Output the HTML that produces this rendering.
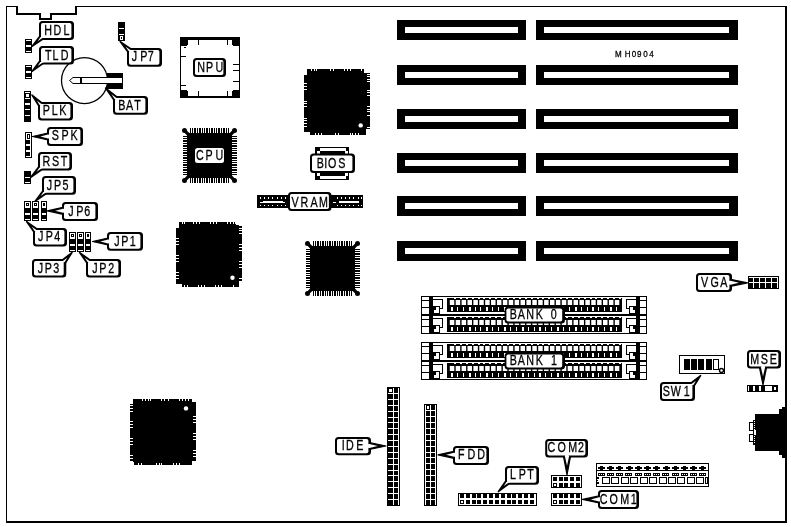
<!DOCTYPE html>
<html><head><meta charset="utf-8"><title>MH0904</title>
<style>
html,body{margin:0;padding:0;background:#fff;}
svg{display:block;will-change:transform;}
text{font-family:"Liberation Sans",sans-serif;fill:#000;stroke:#000;stroke-width:0.3px;}
</style></head><body>
<svg width="791" height="527" viewBox="0 0 791 527" shape-rendering="crispEdges">
<rect x="0" y="0" width="791" height="527" fill="#fff"/>
<rect x="6" y="6" width="12" height="1" fill="#000"/>
<rect x="16" y="6" width="2" height="9" fill="#000"/>
<rect x="16" y="13" width="25" height="2" fill="#000"/>
<rect x="39" y="13" width="2" height="7" fill="#000"/>
<rect x="39" y="18" width="13" height="2" fill="#000"/>
<rect x="50" y="13" width="2" height="7" fill="#000"/>
<rect x="50" y="13" width="27" height="2" fill="#000"/>
<rect x="75" y="6" width="2" height="9" fill="#000"/>
<rect x="75" y="6" width="712" height="1" fill="#000"/>
<rect x="785" y="6" width="2" height="517" fill="#000"/>
<rect x="6" y="521" width="781" height="2" fill="#000"/>
<rect x="6" y="6" width="1" height="517" fill="#000"/>
<rect x="397" y="20" width="129" height="20" fill="#000"/>
<rect x="405" y="27" width="113" height="6" fill="#fff"/>
<rect x="536" y="20" width="202" height="20" fill="#000"/>
<rect x="544" y="27" width="185" height="6" fill="#fff"/>
<rect x="397" y="65" width="129" height="20" fill="#000"/>
<rect x="405" y="72" width="113" height="6" fill="#fff"/>
<rect x="536" y="65" width="202" height="20" fill="#000"/>
<rect x="544" y="72" width="185" height="6" fill="#fff"/>
<rect x="397" y="109" width="129" height="20" fill="#000"/>
<rect x="405" y="116" width="113" height="6" fill="#fff"/>
<rect x="536" y="109" width="202" height="20" fill="#000"/>
<rect x="544" y="116" width="185" height="6" fill="#fff"/>
<rect x="397" y="153" width="129" height="20" fill="#000"/>
<rect x="405" y="160" width="113" height="6" fill="#fff"/>
<rect x="536" y="153" width="202" height="20" fill="#000"/>
<rect x="544" y="160" width="185" height="6" fill="#fff"/>
<rect x="397" y="196" width="129" height="20" fill="#000"/>
<rect x="405" y="203" width="113" height="6" fill="#fff"/>
<rect x="536" y="196" width="202" height="20" fill="#000"/>
<rect x="544" y="203" width="185" height="6" fill="#fff"/>
<rect x="397" y="241" width="129" height="20" fill="#000"/>
<rect x="405" y="248" width="113" height="6" fill="#fff"/>
<rect x="536" y="241" width="202" height="20" fill="#000"/>
<rect x="544" y="248" width="185" height="6" fill="#fff"/>
<rect x="25" y="39" width="7" height="14" fill="#000"/>
<rect x="26" y="40" width="5" height="1" fill="#fff"/>
<rect x="26" y="45" width="5" height="1" fill="#fff"/>
<rect x="26" y="46" width="5" height="1" fill="#fff"/>
<rect x="26" y="51" width="5" height="1" fill="#fff"/>
<rect x="25" y="65" width="7" height="14" fill="#000"/>
<rect x="26" y="66" width="5" height="1" fill="#fff"/>
<rect x="26" y="71" width="5" height="1" fill="#fff"/>
<rect x="26" y="72" width="5" height="1" fill="#fff"/>
<rect x="26" y="77" width="5" height="1" fill="#fff"/>
<rect x="24" y="91" width="7" height="31" fill="#000"/>
<rect x="25" y="92" width="5" height="1" fill="#fff"/>
<rect x="26" y="94" width="3" height="3" fill="#fff"/>
<rect x="25" y="98" width="5" height="1" fill="#fff"/>
<rect x="25" y="103" width="5" height="2" fill="#fff"/>
<rect x="25" y="109" width="5" height="1" fill="#fff"/>
<rect x="25" y="115" width="5" height="1" fill="#fff"/>
<rect x="25" y="132" width="7" height="26" fill="#000"/>
<rect x="26" y="133" width="5" height="24" fill="#fff"/>
<rect x="27" y="134" width="3" height="5" fill="#000"/>
<rect x="28" y="135" width="1" height="3" fill="#fff"/>
<rect x="26" y="140" width="4" height="4" fill="#000"/>
<rect x="26" y="146" width="4" height="4" fill="#000"/>
<rect x="26" y="152" width="4" height="4" fill="#000"/>
<rect x="24" y="171" width="7" height="13" fill="#000"/>
<rect x="25" y="177" width="5" height="1" fill="#fff"/>
<rect x="25" y="182" width="5" height="1" fill="#fff"/>
<rect x="118" y="22" width="7" height="19" fill="#000"/>
<rect x="119" y="28" width="5" height="1" fill="#fff"/>
<rect x="119" y="34" width="5" height="1" fill="#fff"/>
<rect x="120" y="36" width="3" height="4" fill="#fff"/>
<rect x="121" y="37" width="1" height="2" fill="#000"/>
<rect x="24" y="201" width="7" height="20" fill="#000"/>
<rect x="25" y="202" width="5" height="6" fill="#fff"/>
<rect x="26" y="203" width="3" height="3" fill="#000"/>
<rect x="27" y="204" width="1" height="1" fill="#fff"/>
<rect x="25" y="213" width="5" height="2" fill="#fff"/>
<rect x="25" y="219" width="5" height="1" fill="#fff"/>
<rect x="32" y="201" width="7" height="20" fill="#000"/>
<rect x="33" y="202" width="5" height="6" fill="#fff"/>
<rect x="34" y="203" width="3" height="3" fill="#000"/>
<rect x="35" y="204" width="1" height="1" fill="#fff"/>
<rect x="33" y="213" width="5" height="2" fill="#fff"/>
<rect x="33" y="219" width="5" height="1" fill="#fff"/>
<rect x="41" y="201" width="6" height="20" fill="#000"/>
<rect x="42" y="202" width="4" height="6" fill="#fff"/>
<rect x="43" y="203" width="2" height="3" fill="#000"/>
<rect x="44" y="204" width="0" height="1" fill="#fff"/>
<rect x="42" y="213" width="4" height="2" fill="#fff"/>
<rect x="42" y="219" width="4" height="1" fill="#fff"/>
<rect x="69" y="232" width="7" height="20" fill="#000"/>
<rect x="70" y="233" width="5" height="6" fill="#fff"/>
<rect x="71" y="234" width="3" height="3" fill="#000"/>
<rect x="72" y="235" width="1" height="1" fill="#fff"/>
<rect x="70" y="244" width="5" height="2" fill="#fff"/>
<rect x="70" y="250" width="5" height="1" fill="#fff"/>
<rect x="77" y="232" width="7" height="20" fill="#000"/>
<rect x="78" y="233" width="5" height="6" fill="#fff"/>
<rect x="79" y="234" width="3" height="3" fill="#000"/>
<rect x="80" y="235" width="1" height="1" fill="#fff"/>
<rect x="78" y="244" width="5" height="2" fill="#fff"/>
<rect x="78" y="250" width="5" height="1" fill="#fff"/>
<rect x="85" y="232" width="6" height="20" fill="#000"/>
<rect x="86" y="233" width="4" height="6" fill="#fff"/>
<rect x="87" y="234" width="2" height="3" fill="#000"/>
<rect x="88" y="235" width="0" height="1" fill="#fff"/>
<rect x="86" y="244" width="4" height="2" fill="#fff"/>
<rect x="86" y="250" width="4" height="1" fill="#fff"/>
<circle cx="84.5" cy="80.5" r="23" fill="#fff" stroke="#000" stroke-width="1.25" shape-rendering="geometricPrecision"/>
<rect x="107" y="73" width="16" height="16" fill="#000"/>
<polygon points="69.5,80.5 73,77.5 122.5,77.5 122.5,83.5 73,83.5" fill="#fff" stroke="#000" stroke-width="1" shape-rendering="geometricPrecision"/>
<rect x="80" y="77" width="2" height="7" fill="#000"/>
<polygon points="39.6,36.5 32,46.5 42.5,39.4" fill="#000" stroke="#000" stroke-width="1.5" stroke-linejoin="round" shape-rendering="geometricPrecision"/>
<rect x="39" y="21" width="35" height="19" rx="3.5" ry="3.5" fill="#000" shape-rendering="geometricPrecision"/>
<rect x="41" y="23" width="30.4" height="15" rx="1.8" ry="1.8" fill="#fff" shape-rendering="geometricPrecision"/>
<polygon points="43.94005,35.80205 40.3975,37.2975 37.611,41.199 41.7025,38.6025 44.95795,36.81995" fill="#fff" shape-rendering="geometricPrecision"/>
<text transform="translate(0,35) scale(0.74,1)" x="59.67 72.23 85.83" y="0" font-size="14.5">HDL</text>
<polygon points="39.6,61.099999999999994 32,71.5 42.5,63.99999999999999" fill="#000" stroke="#000" stroke-width="1.5" stroke-linejoin="round" shape-rendering="geometricPrecision"/>
<rect x="39" y="46" width="35" height="18.599999999999994" rx="3.5" ry="3.5" fill="#000" shape-rendering="geometricPrecision"/>
<rect x="41" y="48" width="30.4" height="14.599999999999994" rx="1.8" ry="1.8" fill="#fff" shape-rendering="geometricPrecision"/>
<polygon points="43.94005,60.44604999999999 40.3975,61.897499999999994 37.611,65.951 41.7025,63.20249999999999 44.95795,61.46395" fill="#fff" shape-rendering="geometricPrecision"/>
<text transform="translate(0,60) scale(0.74,1)" x="60.91 71.10 81.96" y="0" font-size="14.5">TLD</text>
<polygon points="38.6,105.5 32,95 41.5,102.6" fill="#000" stroke="#000" stroke-width="1.5" stroke-linejoin="round" shape-rendering="geometricPrecision"/>
<rect x="38" y="102" width="35" height="18.400000000000006" rx="3.5" ry="3.5" fill="#000" shape-rendering="geometricPrecision"/>
<rect x="40" y="104" width="30.4" height="14.400000000000006" rx="1.8" ry="1.8" fill="#fff" shape-rendering="geometricPrecision"/>
<polygon points="42.94005,106.13195 39.3975,104.7025 36.991,100.611 40.7025,103.3975 43.95795,105.11404999999999" fill="#fff" shape-rendering="geometricPrecision"/>
<text transform="translate(0,115) scale(0.74,1)" x="57.77 69.89 79.94" y="0" font-size="14.5">PLK</text>
<polygon points="48,133.0 32.5,136.5 48,140.0" fill="#000" stroke="#000" stroke-width="1.2" stroke-linejoin="round" shape-rendering="geometricPrecision"/>
<rect x="47" y="127" width="36" height="19" rx="3.5" ry="3.5" fill="#000" shape-rendering="geometricPrecision"/>
<rect x="49" y="129" width="31.4" height="15" rx="1.8" ry="1.8" fill="#fff" shape-rendering="geometricPrecision"/>
<polygon points="51.74,134.9166 48.0,134.47 40.25,136.5 48.0,138.53 51.74,138.0834" fill="#fff" shape-rendering="geometricPrecision"/>
<text transform="translate(0,140) scale(0.74,1)" x="70.01 83.04 95.21" y="0" font-size="14.5">SPK</text>
<polygon points="38.6,167.0 30.8,177.3 41.5,169.9" fill="#000" stroke="#000" stroke-width="1.5" stroke-linejoin="round" shape-rendering="geometricPrecision"/>
<rect x="38" y="152" width="34" height="18.5" rx="3.5" ry="3.5" fill="#000" shape-rendering="geometricPrecision"/>
<rect x="40" y="154" width="29.4" height="14.5" rx="1.8" ry="1.8" fill="#fff" shape-rendering="geometricPrecision"/>
<polygon points="42.83005,166.35705 39.3975,167.79749999999999 36.535,171.813 40.7025,169.1025 43.84795,167.37494999999998" fill="#fff" shape-rendering="geometricPrecision"/>
<text transform="translate(0,166) scale(0.74,1)" x="57.37 70.14 82.13" y="0" font-size="14.5">RST</text>
<polygon points="42.6,191.2 35,201.5 45.5,194.1" fill="#000" stroke="#000" stroke-width="1.5" stroke-linejoin="round" shape-rendering="geometricPrecision"/>
<rect x="42" y="176" width="34" height="18.69999999999999" rx="3.5" ry="3.5" fill="#000" shape-rendering="geometricPrecision"/>
<rect x="44" y="178" width="29.4" height="14.699999999999989" rx="1.8" ry="1.8" fill="#fff" shape-rendering="geometricPrecision"/>
<polygon points="46.83005,190.53504999999998 43.3975,191.99749999999997 40.611,196.01299999999998 44.7025,193.30249999999998 47.84795,191.55294999999998" fill="#fff" shape-rendering="geometricPrecision"/>
<text transform="translate(0,190) scale(0.74,1)" x="63.28 73.04 84.56" y="0" font-size="14.5">JP5</text>
<polygon points="63,207.3 47.3,210.8 63,214.3" fill="#000" stroke="#000" stroke-width="1.2" stroke-linejoin="round" shape-rendering="geometricPrecision"/>
<rect x="62" y="202" width="36" height="19" rx="3.5" ry="3.5" fill="#000" shape-rendering="geometricPrecision"/>
<rect x="64" y="204" width="31.4" height="15" rx="1.8" ry="1.8" fill="#fff" shape-rendering="geometricPrecision"/>
<polygon points="66.74,209.3706 63.0,208.77 55.15,210.8 63.0,212.83 66.74,212.53740000000002" fill="#fff" shape-rendering="geometricPrecision"/>
<text transform="translate(0,216) scale(0.74,1)" x="92.07 102.91 113.88" y="0" font-size="14.5">JP6</text>
<polygon points="33.6,231.5 26.6,221.5 36.5,228.6" fill="#000" stroke="#000" stroke-width="1.5" stroke-linejoin="round" shape-rendering="geometricPrecision"/>
<rect x="33" y="228" width="34" height="18.599999999999994" rx="3.5" ry="3.5" fill="#000" shape-rendering="geometricPrecision"/>
<rect x="35" y="230" width="29.4" height="14.599999999999994" rx="1.8" ry="1.8" fill="#fff" shape-rendering="geometricPrecision"/>
<polygon points="37.83005,232.15395 34.3975,230.70250000000001 31.839,226.80100000000002 35.7025,229.3975 38.84795,231.13605" fill="#fff" shape-rendering="geometricPrecision"/>
<text transform="translate(0,241) scale(0.74,1)" x="51.39 61.69 73.22" y="0" font-size="14.5">JP4</text>
<polygon points="108,238.0 92.5,241.5 108,245.0" fill="#000" stroke="#000" stroke-width="1.2" stroke-linejoin="round" shape-rendering="geometricPrecision"/>
<rect x="107" y="232" width="36" height="18.69999999999999" rx="3.5" ry="3.5" fill="#000" shape-rendering="geometricPrecision"/>
<rect x="109" y="234" width="31.4" height="14.699999999999989" rx="1.8" ry="1.8" fill="#fff" shape-rendering="geometricPrecision"/>
<polygon points="111.74,239.8836 108.0,239.47 100.25,241.5 108.0,243.53 111.74,243.0504" fill="#fff" shape-rendering="geometricPrecision"/>
<text transform="translate(0,246) scale(0.74,1)" x="154.50 163.72 175.45" y="0" font-size="14.5">JP1</text>
<polygon points="62.8,259.6 72,252.5 65.7,262.5" fill="#000" stroke="#000" stroke-width="1.5" stroke-linejoin="round" shape-rendering="geometricPrecision"/>
<rect x="32" y="259" width="34.3" height="18.5" rx="3.5" ry="3.5" fill="#000" shape-rendering="geometricPrecision"/>
<rect x="34" y="261" width="29.699999999999996" height="14.5" rx="1.8" ry="1.8" fill="#fff" shape-rendering="geometricPrecision"/>
<polygon points="60.41905,262.12505000000004 63.5975,260.39750000000004 67.195,257.801 64.9025,261.7025 61.43695,263.14295" fill="#fff" shape-rendering="geometricPrecision"/>
<text transform="translate(0,273) scale(0.74,1)" x="50.98 60.34 72.12" y="0" font-size="14.5">JP3</text>
<polygon points="86.6,262.5 79.6,252.5 89.5,259.6" fill="#000" stroke="#000" stroke-width="1.5" stroke-linejoin="round" shape-rendering="geometricPrecision"/>
<rect x="86" y="259" width="35" height="18.5" rx="3.5" ry="3.5" fill="#000" shape-rendering="geometricPrecision"/>
<rect x="88" y="261" width="30.4" height="14.5" rx="1.8" ry="1.8" fill="#fff" shape-rendering="geometricPrecision"/>
<polygon points="90.94005,263.14295 87.3975,261.7025 84.839,257.801 88.7025,260.39750000000004 91.95795,262.12505000000004" fill="#fff" shape-rendering="geometricPrecision"/>
<text transform="translate(0,273) scale(0.74,1)" x="124.77 133.99 146.19" y="0" font-size="14.5">JP2</text>
<polygon points="113.6,99.5 105.6,88 116.5,96.6" fill="#000" stroke="#000" stroke-width="1.5" stroke-linejoin="round" shape-rendering="geometricPrecision"/>
<rect x="113" y="96" width="35" height="18.700000000000003" rx="3.5" ry="3.5" fill="#000" shape-rendering="geometricPrecision"/>
<rect x="115" y="98" width="30.4" height="14.700000000000003" rx="1.8" ry="1.8" fill="#fff" shape-rendering="geometricPrecision"/>
<polygon points="117.94005,100.16495 114.3975,98.7025 111.459,94.231 115.7025,97.3975 118.95795,99.14705" fill="#fff" shape-rendering="geometricPrecision"/>
<text transform="translate(0,110) scale(0.74,1)" x="159.67 170.27 181.32" y="0" font-size="14.5">BAT</text>
<polygon points="127.6,51.5 120.2,41.5 130.5,48.6" fill="#000" stroke="#000" stroke-width="1.5" stroke-linejoin="round" shape-rendering="geometricPrecision"/>
<rect x="127" y="48" width="35" height="18.700000000000003" rx="3.5" ry="3.5" fill="#000" shape-rendering="geometricPrecision"/>
<rect x="129" y="50" width="30.4" height="14.700000000000003" rx="1.8" ry="1.8" fill="#fff" shape-rendering="geometricPrecision"/>
<polygon points="131.94005,52.16495 128.3975,50.7025 125.68700000000001,46.801 129.70250000000001,49.3975 132.95795,51.14705" fill="#fff" shape-rendering="geometricPrecision"/>
<text transform="translate(0,61) scale(0.74,1)" x="178.01 189.40 199.83" y="0" font-size="14.5">JP7</text>
<rect x="180" y="37" width="60" height="61" fill="#000"/>
<rect x="181" y="40" width="58" height="56" fill="#fff"/>
<rect x="181" y="40" width="7" height="5" fill="#000"/>
<rect x="181" y="40" width="6" height="6" fill="#000"/>
<rect x="181" y="91" width="7" height="5" fill="#000"/>
<rect x="181" y="90" width="6" height="6" fill="#000"/>
<rect x="232" y="40" width="7" height="5" fill="#000"/>
<rect x="233" y="40" width="6" height="6" fill="#000"/>
<rect x="232" y="91" width="7" height="5" fill="#000"/>
<rect x="233" y="90" width="6" height="6" fill="#000"/>
<rect x="198" y="40" width="1" height="5" fill="#000"/>
<rect x="198" y="91" width="1" height="5" fill="#000"/>
<rect x="227" y="40" width="1" height="5" fill="#000"/>
<rect x="227" y="91" width="1" height="5" fill="#000"/>
<rect x="184" y="47" width="2" height="1" fill="#000"/>
<rect x="181" y="56" width="5" height="1" fill="#000"/>
<rect x="181" y="85" width="5" height="1" fill="#000"/>
<rect x="233" y="64" width="6" height="1" fill="#000"/>
<rect x="233" y="70" width="6" height="1" fill="#000"/>
<rect x="233" y="81" width="6" height="1" fill="#000"/>
<rect x="193" y="58" width="33" height="19" rx="3.5" ry="3.5" fill="#000" shape-rendering="geometricPrecision"/>
<rect x="195" y="60" width="28.4" height="15" rx="1.8" ry="1.8" fill="#fff" shape-rendering="geometricPrecision"/>
<text transform="translate(0,72) scale(0.74,1)" x="266.69 278.45 291.07" y="0" font-size="14.5">NPU</text>
<rect x="187" y="133" width="45" height="45" fill="#000"/>
<rect x="190" y="128" width="39" height="5" fill="#000"/>
<rect x="190" y="178" width="39" height="5" fill="#000"/>
<rect x="183" y="136" width="4" height="39" fill="#000"/>
<rect x="232" y="136" width="5" height="39" fill="#000"/>
<rect x="191" y="128" width="1" height="5" fill="#fff"/>
<rect x="191" y="178" width="1" height="5" fill="#fff"/>
<rect x="182" y="137" width="5" height="1" fill="#fff"/>
<rect x="232" y="137" width="5" height="1" fill="#fff"/>
<rect x="193" y="128" width="1" height="5" fill="#fff"/>
<rect x="193" y="178" width="1" height="5" fill="#fff"/>
<rect x="182" y="139" width="5" height="1" fill="#fff"/>
<rect x="232" y="139" width="5" height="1" fill="#fff"/>
<rect x="196" y="128" width="1" height="5" fill="#fff"/>
<rect x="196" y="178" width="1" height="5" fill="#fff"/>
<rect x="182" y="142" width="5" height="1" fill="#fff"/>
<rect x="232" y="142" width="5" height="1" fill="#fff"/>
<rect x="198" y="128" width="1" height="5" fill="#fff"/>
<rect x="198" y="178" width="1" height="5" fill="#fff"/>
<rect x="182" y="144" width="5" height="1" fill="#fff"/>
<rect x="232" y="144" width="5" height="1" fill="#fff"/>
<rect x="201" y="128" width="1" height="5" fill="#fff"/>
<rect x="201" y="178" width="1" height="5" fill="#fff"/>
<rect x="182" y="147" width="5" height="1" fill="#fff"/>
<rect x="232" y="147" width="5" height="1" fill="#fff"/>
<rect x="203" y="128" width="1" height="5" fill="#fff"/>
<rect x="203" y="178" width="1" height="5" fill="#fff"/>
<rect x="182" y="149" width="5" height="1" fill="#fff"/>
<rect x="232" y="149" width="5" height="1" fill="#fff"/>
<rect x="205" y="128" width="1" height="5" fill="#fff"/>
<rect x="205" y="178" width="1" height="5" fill="#fff"/>
<rect x="182" y="151" width="5" height="1" fill="#fff"/>
<rect x="232" y="151" width="5" height="1" fill="#fff"/>
<rect x="208" y="128" width="1" height="5" fill="#fff"/>
<rect x="208" y="178" width="1" height="5" fill="#fff"/>
<rect x="182" y="154" width="5" height="1" fill="#fff"/>
<rect x="232" y="154" width="5" height="1" fill="#fff"/>
<rect x="210" y="128" width="1" height="5" fill="#fff"/>
<rect x="210" y="178" width="1" height="5" fill="#fff"/>
<rect x="182" y="156" width="5" height="1" fill="#fff"/>
<rect x="232" y="156" width="5" height="1" fill="#fff"/>
<rect x="213" y="128" width="1" height="5" fill="#fff"/>
<rect x="213" y="178" width="1" height="5" fill="#fff"/>
<rect x="182" y="159" width="5" height="1" fill="#fff"/>
<rect x="232" y="159" width="5" height="1" fill="#fff"/>
<rect x="215" y="128" width="1" height="5" fill="#fff"/>
<rect x="215" y="178" width="1" height="5" fill="#fff"/>
<rect x="182" y="161" width="5" height="1" fill="#fff"/>
<rect x="232" y="161" width="5" height="1" fill="#fff"/>
<rect x="217" y="128" width="1" height="5" fill="#fff"/>
<rect x="217" y="178" width="1" height="5" fill="#fff"/>
<rect x="182" y="163" width="5" height="1" fill="#fff"/>
<rect x="232" y="163" width="5" height="1" fill="#fff"/>
<rect x="220" y="128" width="1" height="5" fill="#fff"/>
<rect x="220" y="178" width="1" height="5" fill="#fff"/>
<rect x="182" y="166" width="5" height="1" fill="#fff"/>
<rect x="232" y="166" width="5" height="1" fill="#fff"/>
<rect x="222" y="128" width="1" height="5" fill="#fff"/>
<rect x="222" y="178" width="1" height="5" fill="#fff"/>
<rect x="182" y="168" width="5" height="1" fill="#fff"/>
<rect x="232" y="168" width="5" height="1" fill="#fff"/>
<rect x="225" y="128" width="1" height="5" fill="#fff"/>
<rect x="225" y="178" width="1" height="5" fill="#fff"/>
<rect x="182" y="171" width="5" height="1" fill="#fff"/>
<rect x="232" y="171" width="5" height="1" fill="#fff"/>
<rect x="227" y="128" width="1" height="5" fill="#fff"/>
<rect x="227" y="178" width="1" height="5" fill="#fff"/>
<rect x="182" y="173" width="5" height="1" fill="#fff"/>
<rect x="232" y="173" width="5" height="1" fill="#fff"/>
<line x1="184.6" y1="130.6" x2="189" y2="135" stroke="#000" stroke-width="3.2" stroke-linecap="round" shape-rendering="geometricPrecision"/>
<circle cx="184.5" cy="130.5" r="2.5" fill="#000" shape-rendering="geometricPrecision"/>
<line x1="234.4" y1="130.6" x2="230" y2="135" stroke="#000" stroke-width="3.2" stroke-linecap="round" shape-rendering="geometricPrecision"/>
<circle cx="234.5" cy="130.5" r="2.5" fill="#000" shape-rendering="geometricPrecision"/>
<line x1="184.6" y1="180.4" x2="189" y2="176" stroke="#000" stroke-width="3.2" stroke-linecap="round" shape-rendering="geometricPrecision"/>
<circle cx="184.5" cy="180.5" r="2.5" fill="#000" shape-rendering="geometricPrecision"/>
<line x1="234.4" y1="180.4" x2="230" y2="176" stroke="#000" stroke-width="3.2" stroke-linecap="round" shape-rendering="geometricPrecision"/>
<circle cx="234.5" cy="180.5" r="2.5" fill="#000" shape-rendering="geometricPrecision"/>
<rect x="195" y="148" width="29" height="15" rx="2.5" fill="#fff" shape-rendering="geometricPrecision"/>
<text transform="translate(0,160) scale(0.74,1)" x="265.01 277.77 291.21" y="0" font-size="14.5">CPU</text>
<rect x="310" y="246" width="45" height="45" fill="#000"/>
<rect x="313" y="241" width="39" height="5" fill="#000"/>
<rect x="313" y="291" width="39" height="5" fill="#000"/>
<rect x="306" y="249" width="4" height="39" fill="#000"/>
<rect x="355" y="249" width="5" height="39" fill="#000"/>
<rect x="314" y="241" width="1" height="5" fill="#fff"/>
<rect x="314" y="291" width="1" height="5" fill="#fff"/>
<rect x="305" y="250" width="5" height="1" fill="#fff"/>
<rect x="355" y="250" width="5" height="1" fill="#fff"/>
<rect x="316" y="241" width="1" height="5" fill="#fff"/>
<rect x="316" y="291" width="1" height="5" fill="#fff"/>
<rect x="305" y="252" width="5" height="1" fill="#fff"/>
<rect x="355" y="252" width="5" height="1" fill="#fff"/>
<rect x="319" y="241" width="1" height="5" fill="#fff"/>
<rect x="319" y="291" width="1" height="5" fill="#fff"/>
<rect x="305" y="255" width="5" height="1" fill="#fff"/>
<rect x="355" y="255" width="5" height="1" fill="#fff"/>
<rect x="321" y="241" width="1" height="5" fill="#fff"/>
<rect x="321" y="291" width="1" height="5" fill="#fff"/>
<rect x="305" y="257" width="5" height="1" fill="#fff"/>
<rect x="355" y="257" width="5" height="1" fill="#fff"/>
<rect x="324" y="241" width="1" height="5" fill="#fff"/>
<rect x="324" y="291" width="1" height="5" fill="#fff"/>
<rect x="305" y="260" width="5" height="1" fill="#fff"/>
<rect x="355" y="260" width="5" height="1" fill="#fff"/>
<rect x="326" y="241" width="1" height="5" fill="#fff"/>
<rect x="326" y="291" width="1" height="5" fill="#fff"/>
<rect x="305" y="262" width="5" height="1" fill="#fff"/>
<rect x="355" y="262" width="5" height="1" fill="#fff"/>
<rect x="328" y="241" width="1" height="5" fill="#fff"/>
<rect x="328" y="291" width="1" height="5" fill="#fff"/>
<rect x="305" y="264" width="5" height="1" fill="#fff"/>
<rect x="355" y="264" width="5" height="1" fill="#fff"/>
<rect x="331" y="241" width="1" height="5" fill="#fff"/>
<rect x="331" y="291" width="1" height="5" fill="#fff"/>
<rect x="305" y="267" width="5" height="1" fill="#fff"/>
<rect x="355" y="267" width="5" height="1" fill="#fff"/>
<rect x="333" y="241" width="1" height="5" fill="#fff"/>
<rect x="333" y="291" width="1" height="5" fill="#fff"/>
<rect x="305" y="269" width="5" height="1" fill="#fff"/>
<rect x="355" y="269" width="5" height="1" fill="#fff"/>
<rect x="336" y="241" width="1" height="5" fill="#fff"/>
<rect x="336" y="291" width="1" height="5" fill="#fff"/>
<rect x="305" y="272" width="5" height="1" fill="#fff"/>
<rect x="355" y="272" width="5" height="1" fill="#fff"/>
<rect x="338" y="241" width="1" height="5" fill="#fff"/>
<rect x="338" y="291" width="1" height="5" fill="#fff"/>
<rect x="305" y="274" width="5" height="1" fill="#fff"/>
<rect x="355" y="274" width="5" height="1" fill="#fff"/>
<rect x="340" y="241" width="1" height="5" fill="#fff"/>
<rect x="340" y="291" width="1" height="5" fill="#fff"/>
<rect x="305" y="276" width="5" height="1" fill="#fff"/>
<rect x="355" y="276" width="5" height="1" fill="#fff"/>
<rect x="343" y="241" width="1" height="5" fill="#fff"/>
<rect x="343" y="291" width="1" height="5" fill="#fff"/>
<rect x="305" y="279" width="5" height="1" fill="#fff"/>
<rect x="355" y="279" width="5" height="1" fill="#fff"/>
<rect x="345" y="241" width="1" height="5" fill="#fff"/>
<rect x="345" y="291" width="1" height="5" fill="#fff"/>
<rect x="305" y="281" width="5" height="1" fill="#fff"/>
<rect x="355" y="281" width="5" height="1" fill="#fff"/>
<rect x="348" y="241" width="1" height="5" fill="#fff"/>
<rect x="348" y="291" width="1" height="5" fill="#fff"/>
<rect x="305" y="284" width="5" height="1" fill="#fff"/>
<rect x="355" y="284" width="5" height="1" fill="#fff"/>
<rect x="350" y="241" width="1" height="5" fill="#fff"/>
<rect x="350" y="291" width="1" height="5" fill="#fff"/>
<rect x="305" y="286" width="5" height="1" fill="#fff"/>
<rect x="355" y="286" width="5" height="1" fill="#fff"/>
<line x1="307.6" y1="243.6" x2="312" y2="248" stroke="#000" stroke-width="3.2" stroke-linecap="round" shape-rendering="geometricPrecision"/>
<circle cx="307.5" cy="243.5" r="2.5" fill="#000" shape-rendering="geometricPrecision"/>
<line x1="357.4" y1="243.6" x2="353" y2="248" stroke="#000" stroke-width="3.2" stroke-linecap="round" shape-rendering="geometricPrecision"/>
<circle cx="357.5" cy="243.5" r="2.5" fill="#000" shape-rendering="geometricPrecision"/>
<line x1="307.6" y1="293.4" x2="312" y2="289" stroke="#000" stroke-width="3.2" stroke-linecap="round" shape-rendering="geometricPrecision"/>
<circle cx="307.5" cy="293.5" r="2.5" fill="#000" shape-rendering="geometricPrecision"/>
<line x1="357.4" y1="293.4" x2="353" y2="289" stroke="#000" stroke-width="3.2" stroke-linecap="round" shape-rendering="geometricPrecision"/>
<circle cx="357.5" cy="293.5" r="2.5" fill="#000" shape-rendering="geometricPrecision"/>
<polygon points="307,69 364,69 364,73 370,73 370,129 366,129 366,135 310,135 310,132 304,132 304,75 307,75" fill="#000" />
<circle cx="360.7" cy="125.4" r="2.2" fill="#fff" shape-rendering="geometricPrecision"/>
<rect x="311" y="69" width="1" height="2" fill="#fff"/>
<rect x="314" y="69" width="1" height="2" fill="#fff"/>
<rect x="316" y="69" width="1" height="2" fill="#fff"/>
<rect x="330" y="69" width="1" height="2" fill="#fff"/>
<rect x="333" y="69" width="1" height="2" fill="#fff"/>
<rect x="344" y="69" width="1" height="2" fill="#fff"/>
<rect x="347" y="69" width="1" height="2" fill="#fff"/>
<rect x="350" y="69" width="1" height="2" fill="#fff"/>
<rect x="361" y="69" width="1" height="2" fill="#fff"/>
<rect x="364" y="69" width="1" height="2" fill="#fff"/>
<rect x="315" y="133" width="1" height="2" fill="#fff"/>
<rect x="318" y="133" width="1" height="2" fill="#fff"/>
<rect x="321" y="133" width="1" height="2" fill="#fff"/>
<rect x="335" y="133" width="1" height="2" fill="#fff"/>
<rect x="338" y="133" width="1" height="2" fill="#fff"/>
<rect x="350" y="133" width="1" height="2" fill="#fff"/>
<rect x="352" y="133" width="1" height="2" fill="#fff"/>
<rect x="355" y="133" width="1" height="2" fill="#fff"/>
<rect x="358" y="133" width="1" height="2" fill="#fff"/>
<rect x="304" y="83" width="3" height="1" fill="#fff"/>
<rect x="304" y="86" width="3" height="1" fill="#fff"/>
<rect x="304" y="89" width="3" height="1" fill="#fff"/>
<rect x="304" y="101" width="3" height="1" fill="#fff"/>
<rect x="304" y="103" width="3" height="1" fill="#fff"/>
<rect x="304" y="106" width="3" height="1" fill="#fff"/>
<rect x="304" y="118" width="3" height="1" fill="#fff"/>
<rect x="304" y="120" width="3" height="1" fill="#fff"/>
<rect x="304" y="123" width="3" height="1" fill="#fff"/>
<rect x="304" y="126" width="3" height="1" fill="#fff"/>
<rect x="367" y="74" width="3" height="1" fill="#fff"/>
<rect x="367" y="76" width="3" height="1" fill="#fff"/>
<rect x="367" y="79" width="3" height="1" fill="#fff"/>
<rect x="367" y="81" width="3" height="1" fill="#fff"/>
<rect x="367" y="90" width="3" height="1" fill="#fff"/>
<rect x="367" y="92" width="3" height="1" fill="#fff"/>
<rect x="367" y="95" width="3" height="1" fill="#fff"/>
<rect x="367" y="106" width="3" height="1" fill="#fff"/>
<rect x="367" y="109" width="3" height="1" fill="#fff"/>
<rect x="367" y="111" width="3" height="1" fill="#fff"/>
<rect x="367" y="115" width="3" height="1" fill="#fff"/>
<rect x="367" y="127" width="3" height="1" fill="#fff"/>
<polygon points="179,222 236,222 236,225 242,225 242,281 239,281 239,287 182,287 182,284 176,284 176,228 179,228" fill="#000" />
<circle cx="232.5" cy="277.8" r="2.2" fill="#fff" shape-rendering="geometricPrecision"/>
<rect x="182" y="222" width="1" height="2" fill="#fff"/>
<rect x="184" y="222" width="1" height="2" fill="#fff"/>
<rect x="193" y="222" width="1" height="2" fill="#fff"/>
<rect x="196" y="222" width="1" height="2" fill="#fff"/>
<rect x="199" y="222" width="1" height="2" fill="#fff"/>
<rect x="210" y="222" width="1" height="2" fill="#fff"/>
<rect x="213" y="222" width="1" height="2" fill="#fff"/>
<rect x="216" y="222" width="1" height="2" fill="#fff"/>
<rect x="227" y="222" width="1" height="2" fill="#fff"/>
<rect x="230" y="222" width="1" height="2" fill="#fff"/>
<rect x="233" y="222" width="1" height="2" fill="#fff"/>
<rect x="235" y="222" width="1" height="2" fill="#fff"/>
<rect x="184" y="285" width="1" height="2" fill="#fff"/>
<rect x="187" y="285" width="1" height="2" fill="#fff"/>
<rect x="198" y="285" width="1" height="2" fill="#fff"/>
<rect x="201" y="285" width="1" height="2" fill="#fff"/>
<rect x="204" y="285" width="1" height="2" fill="#fff"/>
<rect x="215" y="285" width="1" height="2" fill="#fff"/>
<rect x="218" y="285" width="1" height="2" fill="#fff"/>
<rect x="221" y="285" width="1" height="2" fill="#fff"/>
<rect x="233" y="285" width="1" height="2" fill="#fff"/>
<rect x="176" y="238" width="3" height="1" fill="#fff"/>
<rect x="176" y="241" width="3" height="1" fill="#fff"/>
<rect x="176" y="244" width="3" height="1" fill="#fff"/>
<rect x="176" y="255" width="3" height="1" fill="#fff"/>
<rect x="176" y="258" width="3" height="1" fill="#fff"/>
<rect x="176" y="261" width="3" height="1" fill="#fff"/>
<rect x="176" y="272" width="3" height="1" fill="#fff"/>
<rect x="176" y="275" width="3" height="1" fill="#fff"/>
<rect x="176" y="278" width="3" height="1" fill="#fff"/>
<rect x="239" y="225" width="3" height="1" fill="#fff"/>
<rect x="239" y="228" width="3" height="1" fill="#fff"/>
<rect x="239" y="230" width="3" height="1" fill="#fff"/>
<rect x="239" y="233" width="3" height="1" fill="#fff"/>
<rect x="239" y="244" width="3" height="1" fill="#fff"/>
<rect x="239" y="247" width="3" height="1" fill="#fff"/>
<rect x="239" y="250" width="3" height="1" fill="#fff"/>
<rect x="239" y="261" width="3" height="1" fill="#fff"/>
<rect x="239" y="264" width="3" height="1" fill="#fff"/>
<rect x="239" y="267" width="3" height="1" fill="#fff"/>
<rect x="239" y="278" width="3" height="1" fill="#fff"/>
<polygon points="133,399 192,399 192,402 196,402 196,461 192,461 192,465 134,465 134,462 130,462 130,404 133,404" fill="#000" />
<circle cx="186" cy="408.4" r="2.2" fill="#fff" shape-rendering="geometricPrecision"/>
<rect x="142" y="399" width="1" height="2" fill="#fff"/>
<rect x="145" y="399" width="1" height="2" fill="#fff"/>
<rect x="148" y="399" width="1" height="2" fill="#fff"/>
<rect x="150" y="399" width="1" height="2" fill="#fff"/>
<rect x="161" y="399" width="1" height="2" fill="#fff"/>
<rect x="164" y="399" width="1" height="2" fill="#fff"/>
<rect x="168" y="399" width="1" height="2" fill="#fff"/>
<rect x="179" y="399" width="1" height="2" fill="#fff"/>
<rect x="182" y="399" width="1" height="2" fill="#fff"/>
<rect x="185" y="399" width="1" height="2" fill="#fff"/>
<rect x="188" y="399" width="1" height="2" fill="#fff"/>
<rect x="138" y="463" width="1" height="2" fill="#fff"/>
<rect x="141" y="463" width="1" height="2" fill="#fff"/>
<rect x="156" y="463" width="1" height="2" fill="#fff"/>
<rect x="159" y="463" width="1" height="2" fill="#fff"/>
<rect x="161" y="463" width="1" height="2" fill="#fff"/>
<rect x="173" y="463" width="1" height="2" fill="#fff"/>
<rect x="176" y="463" width="1" height="2" fill="#fff"/>
<rect x="179" y="463" width="1" height="2" fill="#fff"/>
<rect x="130" y="405" width="3" height="1" fill="#fff"/>
<rect x="130" y="408" width="3" height="1" fill="#fff"/>
<rect x="130" y="411" width="3" height="1" fill="#fff"/>
<rect x="130" y="421" width="3" height="1" fill="#fff"/>
<rect x="130" y="424" width="3" height="1" fill="#fff"/>
<rect x="130" y="427" width="3" height="1" fill="#fff"/>
<rect x="130" y="438" width="3" height="1" fill="#fff"/>
<rect x="130" y="441" width="3" height="1" fill="#fff"/>
<rect x="130" y="444" width="3" height="1" fill="#fff"/>
<rect x="130" y="455" width="3" height="1" fill="#fff"/>
<rect x="130" y="458" width="3" height="1" fill="#fff"/>
<rect x="130" y="461" width="3" height="1" fill="#fff"/>
<rect x="193" y="416" width="3" height="1" fill="#fff"/>
<rect x="193" y="419" width="3" height="1" fill="#fff"/>
<rect x="193" y="422" width="3" height="1" fill="#fff"/>
<rect x="193" y="433" width="3" height="1" fill="#fff"/>
<rect x="193" y="436" width="3" height="1" fill="#fff"/>
<rect x="193" y="439" width="3" height="1" fill="#fff"/>
<rect x="193" y="450" width="3" height="1" fill="#fff"/>
<rect x="193" y="453" width="3" height="1" fill="#fff"/>
<rect x="193" y="456" width="3" height="1" fill="#fff"/>
<rect x="315" y="147" width="34" height="33" fill="#000"/>
<rect x="320" y="148" width="26" height="3" fill="#fff"/>
<rect x="320" y="176" width="26" height="3" fill="#fff"/>
<rect x="317" y="151" width="3" height="3" fill="#fff"/>
<rect x="345" y="151" width="3" height="3" fill="#fff"/>
<rect x="317" y="173" width="3" height="3" fill="#fff"/>
<rect x="345" y="173" width="3" height="3" fill="#fff"/>
<rect x="310" y="153.4" width="45" height="19.599999999999994" rx="3.5" ry="3.5" fill="#000" shape-rendering="geometricPrecision"/>
<rect x="312" y="155.4" width="40.4" height="15.599999999999994" rx="1.8" ry="1.8" fill="#fff" shape-rendering="geometricPrecision"/>
<text transform="translate(0,168) scale(0.74,1)" x="428.18 438.25 443.15 457.04" y="0" font-size="14.5">BIOS</text>
<rect x="257" y="195" width="106" height="13" fill="#000"/>
<rect x="260" y="202" width="25" height="1" fill="#fff"/>
<rect x="263" y="201" width="20" height="1" fill="#fff"/>
<rect x="333" y="202" width="3" height="1" fill="#fff"/>
<rect x="339" y="201" width="20" height="2" fill="#fff"/>
<rect x="260" y="197" width="1" height="2" fill="#fff"/>
<rect x="260" y="205" width="1" height="1" fill="#fff"/>
<rect x="264" y="197" width="1" height="2" fill="#fff"/>
<rect x="264" y="205" width="1" height="1" fill="#fff"/>
<rect x="268" y="197" width="1" height="2" fill="#fff"/>
<rect x="268" y="205" width="1" height="1" fill="#fff"/>
<rect x="272" y="197" width="1" height="2" fill="#fff"/>
<rect x="272" y="205" width="1" height="1" fill="#fff"/>
<rect x="277" y="197" width="1" height="2" fill="#fff"/>
<rect x="277" y="205" width="1" height="1" fill="#fff"/>
<rect x="281" y="197" width="1" height="2" fill="#fff"/>
<rect x="281" y="205" width="1" height="1" fill="#fff"/>
<rect x="285" y="197" width="1" height="2" fill="#fff"/>
<rect x="285" y="205" width="1" height="1" fill="#fff"/>
<rect x="337" y="197" width="1" height="2" fill="#fff"/>
<rect x="337" y="205" width="1" height="1" fill="#fff"/>
<rect x="341" y="197" width="1" height="2" fill="#fff"/>
<rect x="341" y="205" width="1" height="1" fill="#fff"/>
<rect x="345" y="197" width="1" height="2" fill="#fff"/>
<rect x="345" y="205" width="1" height="1" fill="#fff"/>
<rect x="349" y="197" width="1" height="2" fill="#fff"/>
<rect x="349" y="205" width="1" height="1" fill="#fff"/>
<rect x="353" y="197" width="1" height="2" fill="#fff"/>
<rect x="353" y="205" width="1" height="1" fill="#fff"/>
<rect x="358" y="197" width="1" height="2" fill="#fff"/>
<rect x="358" y="205" width="1" height="1" fill="#fff"/>
<rect x="361" y="197" width="1" height="2" fill="#fff"/>
<rect x="361" y="205" width="1" height="1" fill="#fff"/>
<rect x="288" y="192" width="43.5" height="19" rx="3.5" ry="3.5" fill="#000" shape-rendering="geometricPrecision"/>
<rect x="290" y="194" width="38.9" height="15" rx="1.8" ry="1.8" fill="#fff" shape-rendering="geometricPrecision"/>
<text transform="translate(0,207) scale(0.74,1)" x="393.78 406.15 419.73 431.15" y="0" font-size="14.5">VRAM</text>
<rect x="421" y="296" width="226" height="38" fill="#000"/>
<rect x="422" y="297" width="224" height="36" fill="#fff"/>
<rect x="421" y="314" width="226" height="2" fill="#000"/>
<rect x="421" y="300" width="8" height="1" fill="#000"/>
<rect x="421" y="307" width="8" height="1" fill="#000"/>
<rect x="429" y="296" width="4" height="19" fill="#000"/>
<rect x="433" y="299" width="10" height="1" fill="#000"/>
<rect x="442" y="299" width="1" height="10" fill="#000"/>
<rect x="439" y="308" width="4" height="1" fill="#000"/>
<rect x="433" y="306" width="7" height="8" fill="#000"/>
<rect x="436" y="307" width="3" height="3" fill="#fff"/>
<rect x="434" y="310" width="5" height="3" fill="#fff"/>
<rect x="639" y="300" width="8" height="1" fill="#000"/>
<rect x="639" y="307" width="8" height="1" fill="#000"/>
<rect x="636" y="296" width="4" height="19" fill="#000"/>
<rect x="639" y="297" width="1" height="18" fill="#fff"/>
<rect x="639" y="296" width="1" height="19" fill="#000"/>
<rect x="626" y="299" width="10" height="1" fill="#000"/>
<rect x="626" y="299" width="1" height="10" fill="#000"/>
<rect x="626" y="308" width="4" height="1" fill="#000"/>
<rect x="629" y="306" width="7" height="8" fill="#000"/>
<rect x="630" y="307" width="3" height="3" fill="#fff"/>
<rect x="630" y="310" width="5" height="3" fill="#fff"/>
<rect x="447" y="298" width="175" height="14" fill="#000"/>
<rect x="449.80" y="300" width="4.5" height="5" fill="#fff" shape-rendering="geometricPrecision"/>
<rect x="451" y="307" width="2" height="4" fill="#fff"/>
<rect x="454" y="298" width="2" height="1" fill="#fff"/>
<rect x="455.69" y="300" width="4.5" height="5" fill="#fff" shape-rendering="geometricPrecision"/>
<rect x="457" y="307" width="1" height="4" fill="#fff"/>
<rect x="460" y="298" width="2" height="1" fill="#fff"/>
<rect x="461.59" y="300" width="4.5" height="5" fill="#fff" shape-rendering="geometricPrecision"/>
<rect x="463" y="307" width="1" height="4" fill="#fff"/>
<rect x="466" y="298" width="2" height="1" fill="#fff"/>
<rect x="467.48" y="300" width="4.5" height="5" fill="#fff" shape-rendering="geometricPrecision"/>
<rect x="469" y="307" width="2" height="4" fill="#fff"/>
<rect x="472" y="298" width="2" height="1" fill="#fff"/>
<rect x="473.37" y="300" width="4.5" height="5" fill="#fff" shape-rendering="geometricPrecision"/>
<rect x="475" y="307" width="1" height="4" fill="#fff"/>
<rect x="478" y="298" width="2" height="1" fill="#fff"/>
<rect x="479.26" y="300" width="4.5" height="5" fill="#fff" shape-rendering="geometricPrecision"/>
<rect x="480" y="307" width="1" height="4" fill="#fff"/>
<rect x="483" y="298" width="2" height="1" fill="#fff"/>
<rect x="485.16" y="300" width="4.5" height="5" fill="#fff" shape-rendering="geometricPrecision"/>
<rect x="486" y="307" width="2" height="4" fill="#fff"/>
<rect x="489" y="298" width="2" height="1" fill="#fff"/>
<rect x="491.05" y="300" width="4.5" height="5" fill="#fff" shape-rendering="geometricPrecision"/>
<rect x="492" y="307" width="1" height="4" fill="#fff"/>
<rect x="495" y="298" width="2" height="1" fill="#fff"/>
<rect x="496.94" y="300" width="4.5" height="5" fill="#fff" shape-rendering="geometricPrecision"/>
<rect x="498" y="307" width="1" height="4" fill="#fff"/>
<rect x="501" y="298" width="2" height="1" fill="#fff"/>
<rect x="502.84" y="300" width="4.5" height="5" fill="#fff" shape-rendering="geometricPrecision"/>
<rect x="504" y="307" width="2" height="4" fill="#fff"/>
<rect x="507" y="298" width="2" height="1" fill="#fff"/>
<rect x="508.73" y="300" width="4.5" height="5" fill="#fff" shape-rendering="geometricPrecision"/>
<rect x="510" y="307" width="1" height="4" fill="#fff"/>
<rect x="513" y="298" width="2" height="1" fill="#fff"/>
<rect x="514.62" y="300" width="4.5" height="5" fill="#fff" shape-rendering="geometricPrecision"/>
<rect x="516" y="307" width="1" height="4" fill="#fff"/>
<rect x="519" y="298" width="2" height="1" fill="#fff"/>
<rect x="520.52" y="300" width="4.5" height="5" fill="#fff" shape-rendering="geometricPrecision"/>
<rect x="522" y="307" width="2" height="4" fill="#fff"/>
<rect x="525" y="298" width="2" height="1" fill="#fff"/>
<rect x="526.41" y="300" width="4.5" height="5" fill="#fff" shape-rendering="geometricPrecision"/>
<rect x="528" y="307" width="1" height="4" fill="#fff"/>
<rect x="531" y="298" width="2" height="1" fill="#fff"/>
<rect x="532.30" y="300" width="4.5" height="5" fill="#fff" shape-rendering="geometricPrecision"/>
<rect x="534" y="307" width="1" height="4" fill="#fff"/>
<rect x="537" y="298" width="2" height="1" fill="#fff"/>
<rect x="538.19" y="300" width="4.5" height="5" fill="#fff" shape-rendering="geometricPrecision"/>
<rect x="539" y="307" width="2" height="4" fill="#fff"/>
<rect x="542" y="298" width="2" height="1" fill="#fff"/>
<rect x="544.09" y="300" width="4.5" height="5" fill="#fff" shape-rendering="geometricPrecision"/>
<rect x="545" y="307" width="1" height="4" fill="#fff"/>
<rect x="548" y="298" width="2" height="1" fill="#fff"/>
<rect x="549.98" y="300" width="4.5" height="5" fill="#fff" shape-rendering="geometricPrecision"/>
<rect x="551" y="307" width="1" height="4" fill="#fff"/>
<rect x="554" y="298" width="2" height="1" fill="#fff"/>
<rect x="555.87" y="300" width="4.5" height="5" fill="#fff" shape-rendering="geometricPrecision"/>
<rect x="557" y="307" width="2" height="4" fill="#fff"/>
<rect x="560" y="298" width="2" height="1" fill="#fff"/>
<rect x="561.77" y="300" width="4.5" height="5" fill="#fff" shape-rendering="geometricPrecision"/>
<rect x="563" y="307" width="1" height="4" fill="#fff"/>
<rect x="566" y="298" width="2" height="1" fill="#fff"/>
<rect x="567.66" y="300" width="4.5" height="5" fill="#fff" shape-rendering="geometricPrecision"/>
<rect x="569" y="307" width="1" height="4" fill="#fff"/>
<rect x="572" y="298" width="2" height="1" fill="#fff"/>
<rect x="573.55" y="300" width="4.5" height="5" fill="#fff" shape-rendering="geometricPrecision"/>
<rect x="575" y="307" width="2" height="4" fill="#fff"/>
<rect x="578" y="298" width="2" height="1" fill="#fff"/>
<rect x="579.45" y="300" width="4.5" height="5" fill="#fff" shape-rendering="geometricPrecision"/>
<rect x="581" y="307" width="1" height="4" fill="#fff"/>
<rect x="584" y="298" width="2" height="1" fill="#fff"/>
<rect x="585.34" y="300" width="4.5" height="5" fill="#fff" shape-rendering="geometricPrecision"/>
<rect x="587" y="307" width="1" height="4" fill="#fff"/>
<rect x="590" y="298" width="2" height="1" fill="#fff"/>
<rect x="591.23" y="300" width="4.5" height="5" fill="#fff" shape-rendering="geometricPrecision"/>
<rect x="592" y="307" width="2" height="4" fill="#fff"/>
<rect x="595" y="298" width="2" height="1" fill="#fff"/>
<rect x="597.12" y="300" width="4.5" height="5" fill="#fff" shape-rendering="geometricPrecision"/>
<rect x="598" y="307" width="1" height="4" fill="#fff"/>
<rect x="601" y="298" width="2" height="1" fill="#fff"/>
<rect x="603.02" y="300" width="4.5" height="5" fill="#fff" shape-rendering="geometricPrecision"/>
<rect x="604" y="307" width="1" height="4" fill="#fff"/>
<rect x="607" y="298" width="2" height="1" fill="#fff"/>
<rect x="608.91" y="300" width="4.5" height="5" fill="#fff" shape-rendering="geometricPrecision"/>
<rect x="610" y="307" width="2" height="4" fill="#fff"/>
<rect x="613" y="298" width="2" height="1" fill="#fff"/>
<rect x="614.80" y="300" width="4.5" height="5" fill="#fff" shape-rendering="geometricPrecision"/>
<rect x="616" y="307" width="1" height="4" fill="#fff"/>
<rect x="619" y="298" width="2" height="1" fill="#fff"/>
<rect x="421" y="319" width="8" height="1" fill="#000"/>
<rect x="421" y="326" width="8" height="1" fill="#000"/>
<rect x="429" y="315" width="4" height="19" fill="#000"/>
<rect x="433" y="318" width="10" height="1" fill="#000"/>
<rect x="442" y="318" width="1" height="10" fill="#000"/>
<rect x="439" y="327" width="4" height="1" fill="#000"/>
<rect x="433" y="325" width="7" height="8" fill="#000"/>
<rect x="436" y="326" width="3" height="3" fill="#fff"/>
<rect x="434" y="329" width="5" height="3" fill="#fff"/>
<rect x="639" y="319" width="8" height="1" fill="#000"/>
<rect x="639" y="326" width="8" height="1" fill="#000"/>
<rect x="636" y="315" width="4" height="19" fill="#000"/>
<rect x="639" y="316" width="1" height="18" fill="#fff"/>
<rect x="639" y="315" width="1" height="19" fill="#000"/>
<rect x="626" y="318" width="10" height="1" fill="#000"/>
<rect x="626" y="318" width="1" height="10" fill="#000"/>
<rect x="626" y="327" width="4" height="1" fill="#000"/>
<rect x="629" y="325" width="7" height="8" fill="#000"/>
<rect x="630" y="326" width="3" height="3" fill="#fff"/>
<rect x="630" y="329" width="5" height="3" fill="#fff"/>
<rect x="447" y="317" width="175" height="15" fill="#000"/>
<rect x="449.80" y="320" width="4.5" height="5" fill="#fff" shape-rendering="geometricPrecision"/>
<rect x="451" y="327" width="2" height="4" fill="#fff"/>
<rect x="454" y="317" width="2" height="1" fill="#fff"/>
<rect x="455.69" y="320" width="4.5" height="5" fill="#fff" shape-rendering="geometricPrecision"/>
<rect x="457" y="327" width="1" height="4" fill="#fff"/>
<rect x="460" y="317" width="2" height="1" fill="#fff"/>
<rect x="461.59" y="320" width="4.5" height="5" fill="#fff" shape-rendering="geometricPrecision"/>
<rect x="463" y="327" width="1" height="4" fill="#fff"/>
<rect x="466" y="317" width="2" height="1" fill="#fff"/>
<rect x="467.48" y="320" width="4.5" height="5" fill="#fff" shape-rendering="geometricPrecision"/>
<rect x="469" y="327" width="2" height="4" fill="#fff"/>
<rect x="472" y="317" width="2" height="1" fill="#fff"/>
<rect x="473.37" y="320" width="4.5" height="5" fill="#fff" shape-rendering="geometricPrecision"/>
<rect x="475" y="327" width="1" height="4" fill="#fff"/>
<rect x="478" y="317" width="2" height="1" fill="#fff"/>
<rect x="479.26" y="320" width="4.5" height="5" fill="#fff" shape-rendering="geometricPrecision"/>
<rect x="480" y="327" width="1" height="4" fill="#fff"/>
<rect x="483" y="317" width="2" height="1" fill="#fff"/>
<rect x="485.16" y="320" width="4.5" height="5" fill="#fff" shape-rendering="geometricPrecision"/>
<rect x="486" y="327" width="2" height="4" fill="#fff"/>
<rect x="489" y="317" width="2" height="1" fill="#fff"/>
<rect x="491.05" y="320" width="4.5" height="5" fill="#fff" shape-rendering="geometricPrecision"/>
<rect x="492" y="327" width="1" height="4" fill="#fff"/>
<rect x="495" y="317" width="2" height="1" fill="#fff"/>
<rect x="496.94" y="320" width="4.5" height="5" fill="#fff" shape-rendering="geometricPrecision"/>
<rect x="498" y="327" width="1" height="4" fill="#fff"/>
<rect x="501" y="317" width="2" height="1" fill="#fff"/>
<rect x="502.84" y="320" width="4.5" height="5" fill="#fff" shape-rendering="geometricPrecision"/>
<rect x="504" y="327" width="2" height="4" fill="#fff"/>
<rect x="507" y="317" width="2" height="1" fill="#fff"/>
<rect x="508.73" y="320" width="4.5" height="5" fill="#fff" shape-rendering="geometricPrecision"/>
<rect x="510" y="327" width="1" height="4" fill="#fff"/>
<rect x="513" y="317" width="2" height="1" fill="#fff"/>
<rect x="514.62" y="320" width="4.5" height="5" fill="#fff" shape-rendering="geometricPrecision"/>
<rect x="516" y="327" width="1" height="4" fill="#fff"/>
<rect x="519" y="317" width="2" height="1" fill="#fff"/>
<rect x="520.52" y="320" width="4.5" height="5" fill="#fff" shape-rendering="geometricPrecision"/>
<rect x="522" y="327" width="2" height="4" fill="#fff"/>
<rect x="525" y="317" width="2" height="1" fill="#fff"/>
<rect x="526.41" y="320" width="4.5" height="5" fill="#fff" shape-rendering="geometricPrecision"/>
<rect x="528" y="327" width="1" height="4" fill="#fff"/>
<rect x="531" y="317" width="2" height="1" fill="#fff"/>
<rect x="532.30" y="320" width="4.5" height="5" fill="#fff" shape-rendering="geometricPrecision"/>
<rect x="534" y="327" width="1" height="4" fill="#fff"/>
<rect x="537" y="317" width="2" height="1" fill="#fff"/>
<rect x="538.19" y="320" width="4.5" height="5" fill="#fff" shape-rendering="geometricPrecision"/>
<rect x="539" y="327" width="2" height="4" fill="#fff"/>
<rect x="542" y="317" width="2" height="1" fill="#fff"/>
<rect x="544.09" y="320" width="4.5" height="5" fill="#fff" shape-rendering="geometricPrecision"/>
<rect x="545" y="327" width="1" height="4" fill="#fff"/>
<rect x="548" y="317" width="2" height="1" fill="#fff"/>
<rect x="549.98" y="320" width="4.5" height="5" fill="#fff" shape-rendering="geometricPrecision"/>
<rect x="551" y="327" width="1" height="4" fill="#fff"/>
<rect x="554" y="317" width="2" height="1" fill="#fff"/>
<rect x="555.87" y="320" width="4.5" height="5" fill="#fff" shape-rendering="geometricPrecision"/>
<rect x="557" y="327" width="2" height="4" fill="#fff"/>
<rect x="560" y="317" width="2" height="1" fill="#fff"/>
<rect x="561.77" y="320" width="4.5" height="5" fill="#fff" shape-rendering="geometricPrecision"/>
<rect x="563" y="327" width="1" height="4" fill="#fff"/>
<rect x="566" y="317" width="2" height="1" fill="#fff"/>
<rect x="567.66" y="320" width="4.5" height="5" fill="#fff" shape-rendering="geometricPrecision"/>
<rect x="569" y="327" width="1" height="4" fill="#fff"/>
<rect x="572" y="317" width="2" height="1" fill="#fff"/>
<rect x="573.55" y="320" width="4.5" height="5" fill="#fff" shape-rendering="geometricPrecision"/>
<rect x="575" y="327" width="2" height="4" fill="#fff"/>
<rect x="578" y="317" width="2" height="1" fill="#fff"/>
<rect x="579.45" y="320" width="4.5" height="5" fill="#fff" shape-rendering="geometricPrecision"/>
<rect x="581" y="327" width="1" height="4" fill="#fff"/>
<rect x="584" y="317" width="2" height="1" fill="#fff"/>
<rect x="585.34" y="320" width="4.5" height="5" fill="#fff" shape-rendering="geometricPrecision"/>
<rect x="587" y="327" width="1" height="4" fill="#fff"/>
<rect x="590" y="317" width="2" height="1" fill="#fff"/>
<rect x="591.23" y="320" width="4.5" height="5" fill="#fff" shape-rendering="geometricPrecision"/>
<rect x="592" y="327" width="2" height="4" fill="#fff"/>
<rect x="595" y="317" width="2" height="1" fill="#fff"/>
<rect x="597.12" y="320" width="4.5" height="5" fill="#fff" shape-rendering="geometricPrecision"/>
<rect x="598" y="327" width="1" height="4" fill="#fff"/>
<rect x="601" y="317" width="2" height="1" fill="#fff"/>
<rect x="603.02" y="320" width="4.5" height="5" fill="#fff" shape-rendering="geometricPrecision"/>
<rect x="604" y="327" width="1" height="4" fill="#fff"/>
<rect x="607" y="317" width="2" height="1" fill="#fff"/>
<rect x="608.91" y="320" width="4.5" height="5" fill="#fff" shape-rendering="geometricPrecision"/>
<rect x="610" y="327" width="2" height="4" fill="#fff"/>
<rect x="613" y="317" width="2" height="1" fill="#fff"/>
<rect x="614.80" y="320" width="4.5" height="5" fill="#fff" shape-rendering="geometricPrecision"/>
<rect x="616" y="327" width="1" height="4" fill="#fff"/>
<rect x="619" y="317" width="2" height="1" fill="#fff"/>
<rect x="421" y="342" width="226" height="38" fill="#000"/>
<rect x="422" y="343" width="224" height="36" fill="#fff"/>
<rect x="421" y="360" width="226" height="2" fill="#000"/>
<rect x="421" y="346" width="8" height="1" fill="#000"/>
<rect x="421" y="353" width="8" height="1" fill="#000"/>
<rect x="429" y="342" width="4" height="19" fill="#000"/>
<rect x="433" y="345" width="10" height="1" fill="#000"/>
<rect x="442" y="345" width="1" height="10" fill="#000"/>
<rect x="439" y="354" width="4" height="1" fill="#000"/>
<rect x="433" y="352" width="7" height="8" fill="#000"/>
<rect x="436" y="353" width="3" height="3" fill="#fff"/>
<rect x="434" y="356" width="5" height="3" fill="#fff"/>
<rect x="639" y="346" width="8" height="1" fill="#000"/>
<rect x="639" y="353" width="8" height="1" fill="#000"/>
<rect x="636" y="342" width="4" height="19" fill="#000"/>
<rect x="639" y="343" width="1" height="18" fill="#fff"/>
<rect x="639" y="342" width="1" height="19" fill="#000"/>
<rect x="626" y="345" width="10" height="1" fill="#000"/>
<rect x="626" y="345" width="1" height="10" fill="#000"/>
<rect x="626" y="354" width="4" height="1" fill="#000"/>
<rect x="629" y="352" width="7" height="8" fill="#000"/>
<rect x="630" y="353" width="3" height="3" fill="#fff"/>
<rect x="630" y="356" width="5" height="3" fill="#fff"/>
<rect x="447" y="344" width="175" height="14" fill="#000"/>
<rect x="449.80" y="346" width="4.5" height="5" fill="#fff" shape-rendering="geometricPrecision"/>
<rect x="451" y="353" width="2" height="4" fill="#fff"/>
<rect x="454" y="344" width="2" height="1" fill="#fff"/>
<rect x="455.69" y="346" width="4.5" height="5" fill="#fff" shape-rendering="geometricPrecision"/>
<rect x="457" y="353" width="1" height="4" fill="#fff"/>
<rect x="460" y="344" width="2" height="1" fill="#fff"/>
<rect x="461.59" y="346" width="4.5" height="5" fill="#fff" shape-rendering="geometricPrecision"/>
<rect x="463" y="353" width="1" height="4" fill="#fff"/>
<rect x="466" y="344" width="2" height="1" fill="#fff"/>
<rect x="467.48" y="346" width="4.5" height="5" fill="#fff" shape-rendering="geometricPrecision"/>
<rect x="469" y="353" width="2" height="4" fill="#fff"/>
<rect x="472" y="344" width="2" height="1" fill="#fff"/>
<rect x="473.37" y="346" width="4.5" height="5" fill="#fff" shape-rendering="geometricPrecision"/>
<rect x="475" y="353" width="1" height="4" fill="#fff"/>
<rect x="478" y="344" width="2" height="1" fill="#fff"/>
<rect x="479.26" y="346" width="4.5" height="5" fill="#fff" shape-rendering="geometricPrecision"/>
<rect x="480" y="353" width="1" height="4" fill="#fff"/>
<rect x="483" y="344" width="2" height="1" fill="#fff"/>
<rect x="485.16" y="346" width="4.5" height="5" fill="#fff" shape-rendering="geometricPrecision"/>
<rect x="486" y="353" width="2" height="4" fill="#fff"/>
<rect x="489" y="344" width="2" height="1" fill="#fff"/>
<rect x="491.05" y="346" width="4.5" height="5" fill="#fff" shape-rendering="geometricPrecision"/>
<rect x="492" y="353" width="1" height="4" fill="#fff"/>
<rect x="495" y="344" width="2" height="1" fill="#fff"/>
<rect x="496.94" y="346" width="4.5" height="5" fill="#fff" shape-rendering="geometricPrecision"/>
<rect x="498" y="353" width="1" height="4" fill="#fff"/>
<rect x="501" y="344" width="2" height="1" fill="#fff"/>
<rect x="502.84" y="346" width="4.5" height="5" fill="#fff" shape-rendering="geometricPrecision"/>
<rect x="504" y="353" width="2" height="4" fill="#fff"/>
<rect x="507" y="344" width="2" height="1" fill="#fff"/>
<rect x="508.73" y="346" width="4.5" height="5" fill="#fff" shape-rendering="geometricPrecision"/>
<rect x="510" y="353" width="1" height="4" fill="#fff"/>
<rect x="513" y="344" width="2" height="1" fill="#fff"/>
<rect x="514.62" y="346" width="4.5" height="5" fill="#fff" shape-rendering="geometricPrecision"/>
<rect x="516" y="353" width="1" height="4" fill="#fff"/>
<rect x="519" y="344" width="2" height="1" fill="#fff"/>
<rect x="520.52" y="346" width="4.5" height="5" fill="#fff" shape-rendering="geometricPrecision"/>
<rect x="522" y="353" width="2" height="4" fill="#fff"/>
<rect x="525" y="344" width="2" height="1" fill="#fff"/>
<rect x="526.41" y="346" width="4.5" height="5" fill="#fff" shape-rendering="geometricPrecision"/>
<rect x="528" y="353" width="1" height="4" fill="#fff"/>
<rect x="531" y="344" width="2" height="1" fill="#fff"/>
<rect x="532.30" y="346" width="4.5" height="5" fill="#fff" shape-rendering="geometricPrecision"/>
<rect x="534" y="353" width="1" height="4" fill="#fff"/>
<rect x="537" y="344" width="2" height="1" fill="#fff"/>
<rect x="538.19" y="346" width="4.5" height="5" fill="#fff" shape-rendering="geometricPrecision"/>
<rect x="539" y="353" width="2" height="4" fill="#fff"/>
<rect x="542" y="344" width="2" height="1" fill="#fff"/>
<rect x="544.09" y="346" width="4.5" height="5" fill="#fff" shape-rendering="geometricPrecision"/>
<rect x="545" y="353" width="1" height="4" fill="#fff"/>
<rect x="548" y="344" width="2" height="1" fill="#fff"/>
<rect x="549.98" y="346" width="4.5" height="5" fill="#fff" shape-rendering="geometricPrecision"/>
<rect x="551" y="353" width="1" height="4" fill="#fff"/>
<rect x="554" y="344" width="2" height="1" fill="#fff"/>
<rect x="555.87" y="346" width="4.5" height="5" fill="#fff" shape-rendering="geometricPrecision"/>
<rect x="557" y="353" width="2" height="4" fill="#fff"/>
<rect x="560" y="344" width="2" height="1" fill="#fff"/>
<rect x="561.77" y="346" width="4.5" height="5" fill="#fff" shape-rendering="geometricPrecision"/>
<rect x="563" y="353" width="1" height="4" fill="#fff"/>
<rect x="566" y="344" width="2" height="1" fill="#fff"/>
<rect x="567.66" y="346" width="4.5" height="5" fill="#fff" shape-rendering="geometricPrecision"/>
<rect x="569" y="353" width="1" height="4" fill="#fff"/>
<rect x="572" y="344" width="2" height="1" fill="#fff"/>
<rect x="573.55" y="346" width="4.5" height="5" fill="#fff" shape-rendering="geometricPrecision"/>
<rect x="575" y="353" width="2" height="4" fill="#fff"/>
<rect x="578" y="344" width="2" height="1" fill="#fff"/>
<rect x="579.45" y="346" width="4.5" height="5" fill="#fff" shape-rendering="geometricPrecision"/>
<rect x="581" y="353" width="1" height="4" fill="#fff"/>
<rect x="584" y="344" width="2" height="1" fill="#fff"/>
<rect x="585.34" y="346" width="4.5" height="5" fill="#fff" shape-rendering="geometricPrecision"/>
<rect x="587" y="353" width="1" height="4" fill="#fff"/>
<rect x="590" y="344" width="2" height="1" fill="#fff"/>
<rect x="591.23" y="346" width="4.5" height="5" fill="#fff" shape-rendering="geometricPrecision"/>
<rect x="592" y="353" width="2" height="4" fill="#fff"/>
<rect x="595" y="344" width="2" height="1" fill="#fff"/>
<rect x="597.12" y="346" width="4.5" height="5" fill="#fff" shape-rendering="geometricPrecision"/>
<rect x="598" y="353" width="1" height="4" fill="#fff"/>
<rect x="601" y="344" width="2" height="1" fill="#fff"/>
<rect x="603.02" y="346" width="4.5" height="5" fill="#fff" shape-rendering="geometricPrecision"/>
<rect x="604" y="353" width="1" height="4" fill="#fff"/>
<rect x="607" y="344" width="2" height="1" fill="#fff"/>
<rect x="608.91" y="346" width="4.5" height="5" fill="#fff" shape-rendering="geometricPrecision"/>
<rect x="610" y="353" width="2" height="4" fill="#fff"/>
<rect x="613" y="344" width="2" height="1" fill="#fff"/>
<rect x="614.80" y="346" width="4.5" height="5" fill="#fff" shape-rendering="geometricPrecision"/>
<rect x="616" y="353" width="1" height="4" fill="#fff"/>
<rect x="619" y="344" width="2" height="1" fill="#fff"/>
<rect x="421" y="365" width="8" height="1" fill="#000"/>
<rect x="421" y="372" width="8" height="1" fill="#000"/>
<rect x="429" y="361" width="4" height="19" fill="#000"/>
<rect x="433" y="364" width="10" height="1" fill="#000"/>
<rect x="442" y="364" width="1" height="10" fill="#000"/>
<rect x="439" y="373" width="4" height="1" fill="#000"/>
<rect x="433" y="371" width="7" height="8" fill="#000"/>
<rect x="436" y="372" width="3" height="3" fill="#fff"/>
<rect x="434" y="375" width="5" height="3" fill="#fff"/>
<rect x="639" y="365" width="8" height="1" fill="#000"/>
<rect x="639" y="372" width="8" height="1" fill="#000"/>
<rect x="636" y="361" width="4" height="19" fill="#000"/>
<rect x="639" y="362" width="1" height="18" fill="#fff"/>
<rect x="639" y="361" width="1" height="19" fill="#000"/>
<rect x="626" y="364" width="10" height="1" fill="#000"/>
<rect x="626" y="364" width="1" height="10" fill="#000"/>
<rect x="626" y="373" width="4" height="1" fill="#000"/>
<rect x="629" y="371" width="7" height="8" fill="#000"/>
<rect x="630" y="372" width="3" height="3" fill="#fff"/>
<rect x="630" y="375" width="5" height="3" fill="#fff"/>
<rect x="447" y="363" width="175" height="15" fill="#000"/>
<rect x="449.80" y="366" width="4.5" height="5" fill="#fff" shape-rendering="geometricPrecision"/>
<rect x="451" y="373" width="2" height="4" fill="#fff"/>
<rect x="454" y="363" width="2" height="1" fill="#fff"/>
<rect x="455.69" y="366" width="4.5" height="5" fill="#fff" shape-rendering="geometricPrecision"/>
<rect x="457" y="373" width="1" height="4" fill="#fff"/>
<rect x="460" y="363" width="2" height="1" fill="#fff"/>
<rect x="461.59" y="366" width="4.5" height="5" fill="#fff" shape-rendering="geometricPrecision"/>
<rect x="463" y="373" width="1" height="4" fill="#fff"/>
<rect x="466" y="363" width="2" height="1" fill="#fff"/>
<rect x="467.48" y="366" width="4.5" height="5" fill="#fff" shape-rendering="geometricPrecision"/>
<rect x="469" y="373" width="2" height="4" fill="#fff"/>
<rect x="472" y="363" width="2" height="1" fill="#fff"/>
<rect x="473.37" y="366" width="4.5" height="5" fill="#fff" shape-rendering="geometricPrecision"/>
<rect x="475" y="373" width="1" height="4" fill="#fff"/>
<rect x="478" y="363" width="2" height="1" fill="#fff"/>
<rect x="479.26" y="366" width="4.5" height="5" fill="#fff" shape-rendering="geometricPrecision"/>
<rect x="480" y="373" width="1" height="4" fill="#fff"/>
<rect x="483" y="363" width="2" height="1" fill="#fff"/>
<rect x="485.16" y="366" width="4.5" height="5" fill="#fff" shape-rendering="geometricPrecision"/>
<rect x="486" y="373" width="2" height="4" fill="#fff"/>
<rect x="489" y="363" width="2" height="1" fill="#fff"/>
<rect x="491.05" y="366" width="4.5" height="5" fill="#fff" shape-rendering="geometricPrecision"/>
<rect x="492" y="373" width="1" height="4" fill="#fff"/>
<rect x="495" y="363" width="2" height="1" fill="#fff"/>
<rect x="496.94" y="366" width="4.5" height="5" fill="#fff" shape-rendering="geometricPrecision"/>
<rect x="498" y="373" width="1" height="4" fill="#fff"/>
<rect x="501" y="363" width="2" height="1" fill="#fff"/>
<rect x="502.84" y="366" width="4.5" height="5" fill="#fff" shape-rendering="geometricPrecision"/>
<rect x="504" y="373" width="2" height="4" fill="#fff"/>
<rect x="507" y="363" width="2" height="1" fill="#fff"/>
<rect x="508.73" y="366" width="4.5" height="5" fill="#fff" shape-rendering="geometricPrecision"/>
<rect x="510" y="373" width="1" height="4" fill="#fff"/>
<rect x="513" y="363" width="2" height="1" fill="#fff"/>
<rect x="514.62" y="366" width="4.5" height="5" fill="#fff" shape-rendering="geometricPrecision"/>
<rect x="516" y="373" width="1" height="4" fill="#fff"/>
<rect x="519" y="363" width="2" height="1" fill="#fff"/>
<rect x="520.52" y="366" width="4.5" height="5" fill="#fff" shape-rendering="geometricPrecision"/>
<rect x="522" y="373" width="2" height="4" fill="#fff"/>
<rect x="525" y="363" width="2" height="1" fill="#fff"/>
<rect x="526.41" y="366" width="4.5" height="5" fill="#fff" shape-rendering="geometricPrecision"/>
<rect x="528" y="373" width="1" height="4" fill="#fff"/>
<rect x="531" y="363" width="2" height="1" fill="#fff"/>
<rect x="532.30" y="366" width="4.5" height="5" fill="#fff" shape-rendering="geometricPrecision"/>
<rect x="534" y="373" width="1" height="4" fill="#fff"/>
<rect x="537" y="363" width="2" height="1" fill="#fff"/>
<rect x="538.19" y="366" width="4.5" height="5" fill="#fff" shape-rendering="geometricPrecision"/>
<rect x="539" y="373" width="2" height="4" fill="#fff"/>
<rect x="542" y="363" width="2" height="1" fill="#fff"/>
<rect x="544.09" y="366" width="4.5" height="5" fill="#fff" shape-rendering="geometricPrecision"/>
<rect x="545" y="373" width="1" height="4" fill="#fff"/>
<rect x="548" y="363" width="2" height="1" fill="#fff"/>
<rect x="549.98" y="366" width="4.5" height="5" fill="#fff" shape-rendering="geometricPrecision"/>
<rect x="551" y="373" width="1" height="4" fill="#fff"/>
<rect x="554" y="363" width="2" height="1" fill="#fff"/>
<rect x="555.87" y="366" width="4.5" height="5" fill="#fff" shape-rendering="geometricPrecision"/>
<rect x="557" y="373" width="2" height="4" fill="#fff"/>
<rect x="560" y="363" width="2" height="1" fill="#fff"/>
<rect x="561.77" y="366" width="4.5" height="5" fill="#fff" shape-rendering="geometricPrecision"/>
<rect x="563" y="373" width="1" height="4" fill="#fff"/>
<rect x="566" y="363" width="2" height="1" fill="#fff"/>
<rect x="567.66" y="366" width="4.5" height="5" fill="#fff" shape-rendering="geometricPrecision"/>
<rect x="569" y="373" width="1" height="4" fill="#fff"/>
<rect x="572" y="363" width="2" height="1" fill="#fff"/>
<rect x="573.55" y="366" width="4.5" height="5" fill="#fff" shape-rendering="geometricPrecision"/>
<rect x="575" y="373" width="2" height="4" fill="#fff"/>
<rect x="578" y="363" width="2" height="1" fill="#fff"/>
<rect x="579.45" y="366" width="4.5" height="5" fill="#fff" shape-rendering="geometricPrecision"/>
<rect x="581" y="373" width="1" height="4" fill="#fff"/>
<rect x="584" y="363" width="2" height="1" fill="#fff"/>
<rect x="585.34" y="366" width="4.5" height="5" fill="#fff" shape-rendering="geometricPrecision"/>
<rect x="587" y="373" width="1" height="4" fill="#fff"/>
<rect x="590" y="363" width="2" height="1" fill="#fff"/>
<rect x="591.23" y="366" width="4.5" height="5" fill="#fff" shape-rendering="geometricPrecision"/>
<rect x="592" y="373" width="2" height="4" fill="#fff"/>
<rect x="595" y="363" width="2" height="1" fill="#fff"/>
<rect x="597.12" y="366" width="4.5" height="5" fill="#fff" shape-rendering="geometricPrecision"/>
<rect x="598" y="373" width="1" height="4" fill="#fff"/>
<rect x="601" y="363" width="2" height="1" fill="#fff"/>
<rect x="603.02" y="366" width="4.5" height="5" fill="#fff" shape-rendering="geometricPrecision"/>
<rect x="604" y="373" width="1" height="4" fill="#fff"/>
<rect x="607" y="363" width="2" height="1" fill="#fff"/>
<rect x="608.91" y="366" width="4.5" height="5" fill="#fff" shape-rendering="geometricPrecision"/>
<rect x="610" y="373" width="2" height="4" fill="#fff"/>
<rect x="613" y="363" width="2" height="1" fill="#fff"/>
<rect x="614.80" y="366" width="4.5" height="5" fill="#fff" shape-rendering="geometricPrecision"/>
<rect x="616" y="373" width="1" height="4" fill="#fff"/>
<rect x="619" y="363" width="2" height="1" fill="#fff"/>
<rect x="504.6" y="306.6" width="60.39999999999998" height="16.799999999999955" rx="3.5" ry="3.5" fill="#000" shape-rendering="geometricPrecision"/>
<rect x="506.40000000000003" y="308.40000000000003" width="55.79999999999998" height="13.199999999999955" rx="1.8" ry="1.8" fill="#fff" shape-rendering="geometricPrecision"/>
<text transform="translate(0,319) scale(0.74,1)" x="688.99 699.73 711.29 723.85 726.85 744.15" y="0" font-size="14.5">BANK 0</text>
<rect x="504.6" y="352.6" width="60.39999999999998" height="16.799999999999955" rx="3.5" ry="3.5" fill="#000" shape-rendering="geometricPrecision"/>
<rect x="506.40000000000003" y="354.40000000000003" width="55.79999999999998" height="13.199999999999955" rx="1.8" ry="1.8" fill="#fff" shape-rendering="geometricPrecision"/>
<text transform="translate(0,365) scale(0.74,1)" x="688.99 699.73 711.29 723.85 726.85 744.50" y="0" font-size="14.5">BANK 1</text>
<rect x="387" y="387" width="13" height="119" fill="#000"/>
<rect x="388" y="388" width="11" height="117" fill="#fff"/>
<rect x="388" y="388" width="5" height="5" fill="#000"/>
<rect x="394" y="388" width="4" height="5" fill="#000"/>
<rect x="388" y="394" width="5" height="5" fill="#000"/>
<rect x="394" y="394" width="4" height="5" fill="#000"/>
<rect x="388" y="400" width="5" height="5" fill="#000"/>
<rect x="394" y="400" width="4" height="5" fill="#000"/>
<rect x="388" y="406" width="5" height="5" fill="#000"/>
<rect x="394" y="406" width="4" height="5" fill="#000"/>
<rect x="388" y="412" width="5" height="5" fill="#000"/>
<rect x="394" y="412" width="4" height="5" fill="#000"/>
<rect x="388" y="418" width="5" height="4" fill="#000"/>
<rect x="394" y="418" width="4" height="4" fill="#000"/>
<rect x="388" y="423" width="5" height="5" fill="#000"/>
<rect x="394" y="423" width="4" height="5" fill="#000"/>
<rect x="388" y="429" width="5" height="5" fill="#000"/>
<rect x="394" y="429" width="4" height="5" fill="#000"/>
<rect x="388" y="435" width="5" height="5" fill="#000"/>
<rect x="394" y="435" width="4" height="5" fill="#000"/>
<rect x="388" y="441" width="5" height="5" fill="#000"/>
<rect x="394" y="441" width="4" height="5" fill="#000"/>
<rect x="388" y="447" width="5" height="5" fill="#000"/>
<rect x="394" y="447" width="4" height="5" fill="#000"/>
<rect x="388" y="453" width="5" height="5" fill="#000"/>
<rect x="394" y="453" width="4" height="5" fill="#000"/>
<rect x="388" y="459" width="5" height="5" fill="#000"/>
<rect x="394" y="459" width="4" height="5" fill="#000"/>
<rect x="388" y="465" width="5" height="5" fill="#000"/>
<rect x="394" y="465" width="4" height="5" fill="#000"/>
<rect x="388" y="471" width="5" height="4" fill="#000"/>
<rect x="394" y="471" width="4" height="4" fill="#000"/>
<rect x="388" y="476" width="5" height="5" fill="#000"/>
<rect x="394" y="476" width="4" height="5" fill="#000"/>
<rect x="388" y="482" width="5" height="5" fill="#000"/>
<rect x="394" y="482" width="4" height="5" fill="#000"/>
<rect x="388" y="488" width="5" height="5" fill="#000"/>
<rect x="394" y="488" width="4" height="5" fill="#000"/>
<rect x="388" y="494" width="5" height="5" fill="#000"/>
<rect x="394" y="494" width="4" height="5" fill="#000"/>
<rect x="388" y="500" width="5" height="5" fill="#000"/>
<rect x="394" y="500" width="4" height="5" fill="#000"/>
<rect x="389" y="389" width="3" height="3" fill="#fff"/>
<rect x="424" y="404" width="13" height="102" fill="#000"/>
<rect x="425" y="405" width="11" height="100" fill="#fff"/>
<rect x="426" y="405" width="4" height="5" fill="#000"/>
<rect x="431" y="405" width="4" height="5" fill="#000"/>
<rect x="426" y="411" width="4" height="5" fill="#000"/>
<rect x="431" y="411" width="4" height="5" fill="#000"/>
<rect x="426" y="417" width="4" height="5" fill="#000"/>
<rect x="431" y="417" width="4" height="5" fill="#000"/>
<rect x="426" y="423" width="4" height="5" fill="#000"/>
<rect x="431" y="423" width="4" height="5" fill="#000"/>
<rect x="426" y="429" width="4" height="5" fill="#000"/>
<rect x="431" y="429" width="4" height="5" fill="#000"/>
<rect x="426" y="435" width="4" height="5" fill="#000"/>
<rect x="431" y="435" width="4" height="5" fill="#000"/>
<rect x="426" y="441" width="4" height="5" fill="#000"/>
<rect x="431" y="441" width="4" height="5" fill="#000"/>
<rect x="426" y="447" width="4" height="5" fill="#000"/>
<rect x="431" y="447" width="4" height="5" fill="#000"/>
<rect x="426" y="453" width="4" height="4" fill="#000"/>
<rect x="431" y="453" width="4" height="4" fill="#000"/>
<rect x="426" y="458" width="4" height="5" fill="#000"/>
<rect x="431" y="458" width="4" height="5" fill="#000"/>
<rect x="426" y="464" width="4" height="5" fill="#000"/>
<rect x="431" y="464" width="4" height="5" fill="#000"/>
<rect x="426" y="470" width="4" height="5" fill="#000"/>
<rect x="431" y="470" width="4" height="5" fill="#000"/>
<rect x="426" y="476" width="4" height="5" fill="#000"/>
<rect x="431" y="476" width="4" height="5" fill="#000"/>
<rect x="426" y="482" width="4" height="5" fill="#000"/>
<rect x="431" y="482" width="4" height="5" fill="#000"/>
<rect x="426" y="488" width="4" height="5" fill="#000"/>
<rect x="431" y="488" width="4" height="5" fill="#000"/>
<rect x="426" y="494" width="4" height="5" fill="#000"/>
<rect x="431" y="494" width="4" height="5" fill="#000"/>
<rect x="426" y="500" width="4" height="5" fill="#000"/>
<rect x="431" y="500" width="4" height="5" fill="#000"/>
<rect x="427" y="406" width="2" height="3" fill="#fff"/>
<rect x="458" y="493" width="79" height="13" fill="#000"/>
<rect x="459" y="494" width="77" height="11" fill="#fff"/>
<rect x="460" y="494" width="4" height="4" fill="#000"/>
<rect x="460" y="500" width="4" height="4" fill="#000"/>
<rect x="466" y="494" width="4" height="4" fill="#000"/>
<rect x="466" y="500" width="4" height="4" fill="#000"/>
<rect x="472" y="494" width="4" height="4" fill="#000"/>
<rect x="472" y="500" width="4" height="4" fill="#000"/>
<rect x="477" y="494" width="4" height="4" fill="#000"/>
<rect x="477" y="500" width="4" height="4" fill="#000"/>
<rect x="483" y="494" width="4" height="4" fill="#000"/>
<rect x="483" y="500" width="4" height="4" fill="#000"/>
<rect x="489" y="494" width="4" height="4" fill="#000"/>
<rect x="489" y="500" width="4" height="4" fill="#000"/>
<rect x="495" y="494" width="4" height="4" fill="#000"/>
<rect x="495" y="500" width="4" height="4" fill="#000"/>
<rect x="501" y="494" width="4" height="4" fill="#000"/>
<rect x="501" y="500" width="4" height="4" fill="#000"/>
<rect x="507" y="494" width="4" height="4" fill="#000"/>
<rect x="507" y="500" width="4" height="4" fill="#000"/>
<rect x="512" y="494" width="4" height="4" fill="#000"/>
<rect x="512" y="500" width="4" height="4" fill="#000"/>
<rect x="518" y="494" width="4" height="4" fill="#000"/>
<rect x="518" y="500" width="4" height="4" fill="#000"/>
<rect x="524" y="494" width="4" height="4" fill="#000"/>
<rect x="524" y="500" width="4" height="4" fill="#000"/>
<rect x="530" y="494" width="4" height="4" fill="#000"/>
<rect x="530" y="500" width="4" height="4" fill="#000"/>
<rect x="461" y="501" width="2" height="2" fill="#fff"/>
<rect x="551" y="475" width="31" height="13" fill="#000"/>
<rect x="552" y="476" width="29" height="11" fill="#fff"/>
<rect x="553" y="477" width="4" height="4" fill="#000"/>
<rect x="553" y="483" width="4" height="4" fill="#000"/>
<rect x="559" y="477" width="4" height="4" fill="#000"/>
<rect x="559" y="483" width="4" height="4" fill="#000"/>
<rect x="564" y="477" width="4" height="4" fill="#000"/>
<rect x="564" y="483" width="4" height="4" fill="#000"/>
<rect x="570" y="477" width="4" height="4" fill="#000"/>
<rect x="570" y="483" width="4" height="4" fill="#000"/>
<rect x="576" y="477" width="4" height="4" fill="#000"/>
<rect x="576" y="483" width="4" height="4" fill="#000"/>
<rect x="554" y="484" width="2" height="2" fill="#fff"/>
<rect x="551" y="493" width="31" height="13" fill="#000"/>
<rect x="552" y="494" width="29" height="11" fill="#fff"/>
<rect x="553" y="494" width="4" height="4" fill="#000"/>
<rect x="553" y="500" width="4" height="4" fill="#000"/>
<rect x="559" y="494" width="4" height="4" fill="#000"/>
<rect x="559" y="500" width="4" height="4" fill="#000"/>
<rect x="564" y="494" width="4" height="4" fill="#000"/>
<rect x="564" y="500" width="4" height="4" fill="#000"/>
<rect x="570" y="494" width="4" height="4" fill="#000"/>
<rect x="570" y="500" width="4" height="4" fill="#000"/>
<rect x="576" y="494" width="4" height="4" fill="#000"/>
<rect x="576" y="500" width="4" height="4" fill="#000"/>
<rect x="554" y="501" width="2" height="2" fill="#fff"/>
<polygon points="369.5,442.5 386,446 369.5,449.5" fill="#000" stroke="#000" stroke-width="1.2" stroke-linejoin="round" shape-rendering="geometricPrecision"/>
<rect x="335" y="437" width="36" height="18.19999999999999" rx="3.5" ry="3.5" fill="#000" shape-rendering="geometricPrecision"/>
<rect x="337" y="439" width="31.4" height="14.199999999999989" rx="1.8" ry="1.8" fill="#fff" shape-rendering="geometricPrecision"/>
<polygon points="365.87,444.4386 369.5,443.97 377.75,446.0 369.5,448.03 365.87,447.6054" fill="#fff" shape-rendering="geometricPrecision"/>
<text transform="translate(0,450) scale(0.74,1)" x="461.89 467.50 481.29" y="0" font-size="14.5">IDE</text>
<polygon points="454,451.3 438,454.8 454,458.3" fill="#000" stroke="#000" stroke-width="1.2" stroke-linejoin="round" shape-rendering="geometricPrecision"/>
<rect x="453" y="446" width="36" height="19" rx="3.5" ry="3.5" fill="#000" shape-rendering="geometricPrecision"/>
<rect x="455" y="448" width="31.4" height="15" rx="1.8" ry="1.8" fill="#fff" shape-rendering="geometricPrecision"/>
<polygon points="457.74,453.3706 454.0,452.77000000000004 446.0,454.8 454.0,456.83 457.74,456.5374" fill="#fff" shape-rendering="geometricPrecision"/>
<text transform="translate(0,459) scale(0.74,1)" x="618.99 631.83 644.94" y="0" font-size="14.5">FDD</text>
<polygon points="505.6,481.2 498.3,491.7 508.5,484.09999999999997" fill="#000" stroke="#000" stroke-width="1.5" stroke-linejoin="round" shape-rendering="geometricPrecision"/>
<rect x="505" y="466" width="34" height="18.69999999999999" rx="3.5" ry="3.5" fill="#000" shape-rendering="geometricPrecision"/>
<rect x="507" y="468" width="29.4" height="14.699999999999989" rx="1.8" ry="1.8" fill="#fff" shape-rendering="geometricPrecision"/>
<polygon points="509.83005,480.53505 506.39750000000004,481.9975 503.725,486.089 507.7025,483.30249999999995 510.84794999999997,481.55294999999995" fill="#fff" shape-rendering="geometricPrecision"/>
<text transform="translate(0,479) scale(0.74,1)" x="689.21 701.02 712.53" y="0" font-size="14.5">LPT</text>
<polygon points="563.5,456.4 567,475 570.5,456.4" fill="#000" stroke="#000" stroke-width="1.2" stroke-linejoin="round" shape-rendering="geometricPrecision"/>
<rect x="545.2" y="439" width="42.799999999999955" height="18.399999999999977" rx="3.5" ry="3.5" fill="#000" shape-rendering="geometricPrecision"/>
<rect x="547.2" y="441" width="38.19999999999995" height="14.399999999999977" rx="1.8" ry="1.8" fill="#fff" shape-rendering="geometricPrecision"/>
<polygon points="565.3286,454.596 564.97,456.4 567.0,465.7 569.03,456.4 568.4954,454.596" fill="#fff" shape-rendering="geometricPrecision"/>
<text transform="translate(0,452) scale(0.74,1)" x="739.87 753.42 768.04 781.05" y="0" font-size="14.5">COM2</text>
<polygon points="599,495.9 582.6,499.4 599,502.9" fill="#000" stroke="#000" stroke-width="1.2" stroke-linejoin="round" shape-rendering="geometricPrecision"/>
<rect x="598" y="490" width="41" height="19" rx="3.5" ry="3.5" fill="#000" shape-rendering="geometricPrecision"/>
<rect x="600" y="492" width="36.4" height="15" rx="1.8" ry="1.8" fill="#fff" shape-rendering="geometricPrecision"/>
<polygon points="603.29,497.8386 599.0,497.37 590.8,499.4 599.0,501.42999999999995 603.29,501.00539999999995" fill="#fff" shape-rendering="geometricPrecision"/>
<text transform="translate(0,504) scale(0.74,1)" x="810.55 823.55 838.04 852.47" y="0" font-size="14.5">COM1</text>
<polygon points="730.5,279.3 747.5,282.8 730.5,286.3" fill="#000" stroke="#000" stroke-width="1.2" stroke-linejoin="round" shape-rendering="geometricPrecision"/>
<rect x="696" y="273" width="36" height="19" rx="3.5" ry="3.5" fill="#000" shape-rendering="geometricPrecision"/>
<rect x="698" y="275" width="31.4" height="15" rx="1.8" ry="1.8" fill="#fff" shape-rendering="geometricPrecision"/>
<polygon points="726.87,281.15060000000005 730.5,280.77000000000004 739.0,282.8 730.5,284.83 726.87,284.31739999999996" fill="#fff" shape-rendering="geometricPrecision"/>
<text transform="translate(0,287) scale(0.74,1)" x="947.43 960.01 973.38" y="0" font-size="14.5">VGA</text>
<rect x="748" y="276" width="31" height="13" fill="#000"/>
<rect x="753" y="277" width="1" height="11" fill="#fff"/>
<rect x="759" y="277" width="1" height="11" fill="#fff"/>
<rect x="765" y="277" width="1" height="11" fill="#fff"/>
<rect x="771" y="277" width="1" height="11" fill="#fff"/>
<rect x="777" y="277" width="1" height="11" fill="#fff"/>
<rect x="749" y="282" width="29" height="1" fill="#fff"/>
<rect x="749" y="277" width="29" height="1" fill="#fff"/>
<rect x="679" y="355" width="46" height="19" fill="#000"/>
<rect x="680" y="356" width="44" height="17" fill="#fff"/>
<rect x="684" y="359" width="6" height="11" fill="#000"/>
<rect x="691" y="359" width="6" height="11" fill="#000"/>
<rect x="698" y="359" width="6" height="11" fill="#000"/>
<rect x="706" y="359" width="6" height="11" fill="#000"/>
<rect x="713" y="359" width="6" height="11" fill="#000"/>
<rect x="714" y="360" width="4" height="9" fill="#fff"/>
<circle cx="721.5" cy="370.5" r="2" fill="#fff" stroke="#000" stroke-width="1.4" shape-rendering="geometricPrecision"/>
<polygon points="691.5,382.6 700.6,375.5 694.4,385.5" fill="#000" stroke="#000" stroke-width="1.5" stroke-linejoin="round" shape-rendering="geometricPrecision"/>
<rect x="660" y="382" width="35" height="19" rx="3.5" ry="3.5" fill="#000" shape-rendering="geometricPrecision"/>
<rect x="662" y="384" width="30.4" height="15" rx="1.8" ry="1.8" fill="#fff" shape-rendering="geometricPrecision"/>
<polygon points="689.04205,385.18005000000005 692.2975,383.39750000000004 695.8570000000001,380.801 693.6025,384.7025 690.05995,386.19795" fill="#fff" shape-rendering="geometricPrecision"/>
<text transform="translate(0,396) scale(0.74,1)" x="895.55 906.35 923.96" y="0" font-size="14.5">SW1</text>
<polygon points="759.5,367.6 763,385 766.5,367.6" fill="#000" stroke="#000" stroke-width="1.2" stroke-linejoin="round" shape-rendering="geometricPrecision"/>
<rect x="747" y="350" width="34" height="18.600000000000023" rx="3.5" ry="3.5" fill="#000" shape-rendering="geometricPrecision"/>
<rect x="749" y="352" width="29.4" height="14.600000000000023" rx="1.8" ry="1.8" fill="#fff" shape-rendering="geometricPrecision"/>
<polygon points="761.6366,365.774 760.97,367.6 763.0,376.3 765.03,367.6 764.8034,365.774" fill="#fff" shape-rendering="geometricPrecision"/>
<text transform="translate(0,364) scale(0.74,1)" x="1013.72 1027.98 1040.07" y="0" font-size="14.5">MSE</text>
<rect x="747" y="385" width="31" height="7" fill="#000"/>
<rect x="748" y="386" width="1" height="5" fill="#fff"/>
<rect x="753" y="386" width="2" height="5" fill="#fff"/>
<rect x="759" y="386" width="2" height="5" fill="#fff"/>
<rect x="765" y="386" width="7" height="5" fill="#fff"/>
<rect x="774" y="387" width="2" height="3" fill="#fff"/>
<rect x="755" y="414" width="24" height="37" fill="#000"/>
<rect x="779" y="409" width="3" height="46" fill="#000"/>
<rect x="782" y="407" width="3" height="51" fill="#000"/>
<rect x="749" y="422" width="5" height="9" fill="#000"/>
<rect x="750" y="423" width="3" height="7" fill="#fff"/>
<rect x="749" y="434" width="5" height="8" fill="#000"/>
<rect x="750" y="435" width="3" height="6" fill="#fff"/>
<rect x="753" y="420" width="2" height="25" fill="#000"/>
<rect x="754" y="430" width="2" height="5" fill="#fff"/>
<rect x="754" y="421" width="1" height="1" fill="#fff"/>
<rect x="754" y="423" width="1" height="1" fill="#fff"/>
<rect x="754" y="425" width="1" height="1" fill="#fff"/>
<rect x="754" y="427" width="1" height="1" fill="#fff"/>
<rect x="754" y="429" width="1" height="1" fill="#fff"/>
<rect x="754" y="436" width="1" height="1" fill="#fff"/>
<rect x="754" y="438" width="1" height="1" fill="#fff"/>
<rect x="754" y="440" width="1" height="1" fill="#fff"/>
<rect x="754" y="442" width="1" height="1" fill="#fff"/>
<rect x="596" y="463" width="113" height="24" fill="#000"/>
<rect x="597" y="464" width="111" height="22" fill="#fff"/>
<rect x="597" y="470" width="111" height="1" fill="#000"/>
<rect x="598" y="467" width="7" height="2" fill="#000"/>
<rect x="600" y="466" width="3" height="4" fill="#000"/>
<rect x="598" y="473" width="7" height="3" fill="#000"/>
<rect x="599" y="474" width="1" height="1" fill="#fff"/>
<rect x="601" y="474" width="1" height="1" fill="#fff"/>
<rect x="603" y="474" width="1" height="1" fill="#fff"/>
<rect x="607" y="467" width="7" height="2" fill="#000"/>
<rect x="609" y="466" width="3" height="4" fill="#000"/>
<rect x="607" y="473" width="7" height="3" fill="#000"/>
<rect x="608" y="474" width="1" height="1" fill="#fff"/>
<rect x="610" y="474" width="1" height="1" fill="#fff"/>
<rect x="612" y="474" width="1" height="1" fill="#fff"/>
<rect x="616" y="467" width="7" height="2" fill="#000"/>
<rect x="618" y="466" width="3" height="4" fill="#000"/>
<rect x="616" y="473" width="7" height="3" fill="#000"/>
<rect x="617" y="474" width="1" height="1" fill="#fff"/>
<rect x="619" y="474" width="1" height="1" fill="#fff"/>
<rect x="621" y="474" width="1" height="1" fill="#fff"/>
<rect x="626" y="467" width="7" height="2" fill="#000"/>
<rect x="628" y="466" width="3" height="4" fill="#000"/>
<rect x="625" y="473" width="7" height="3" fill="#000"/>
<rect x="626" y="474" width="1" height="1" fill="#fff"/>
<rect x="628" y="474" width="1" height="1" fill="#fff"/>
<rect x="630" y="474" width="1" height="1" fill="#fff"/>
<rect x="635" y="467" width="7" height="2" fill="#000"/>
<rect x="637" y="466" width="3" height="4" fill="#000"/>
<rect x="635" y="473" width="7" height="3" fill="#000"/>
<rect x="636" y="474" width="1" height="1" fill="#fff"/>
<rect x="638" y="474" width="1" height="1" fill="#fff"/>
<rect x="640" y="474" width="1" height="1" fill="#fff"/>
<rect x="644" y="467" width="7" height="2" fill="#000"/>
<rect x="646" y="466" width="3" height="4" fill="#000"/>
<rect x="644" y="473" width="7" height="3" fill="#000"/>
<rect x="645" y="474" width="1" height="1" fill="#fff"/>
<rect x="647" y="474" width="1" height="1" fill="#fff"/>
<rect x="649" y="474" width="1" height="1" fill="#fff"/>
<rect x="653" y="467" width="7" height="2" fill="#000"/>
<rect x="655" y="466" width="3" height="4" fill="#000"/>
<rect x="653" y="473" width="7" height="3" fill="#000"/>
<rect x="654" y="474" width="1" height="1" fill="#fff"/>
<rect x="656" y="474" width="1" height="1" fill="#fff"/>
<rect x="658" y="474" width="1" height="1" fill="#fff"/>
<rect x="663" y="467" width="7" height="2" fill="#000"/>
<rect x="665" y="466" width="3" height="4" fill="#000"/>
<rect x="662" y="473" width="7" height="3" fill="#000"/>
<rect x="663" y="474" width="1" height="1" fill="#fff"/>
<rect x="665" y="474" width="1" height="1" fill="#fff"/>
<rect x="667" y="474" width="1" height="1" fill="#fff"/>
<rect x="672" y="467" width="7" height="2" fill="#000"/>
<rect x="674" y="466" width="3" height="4" fill="#000"/>
<rect x="672" y="473" width="7" height="3" fill="#000"/>
<rect x="673" y="474" width="1" height="1" fill="#fff"/>
<rect x="675" y="474" width="1" height="1" fill="#fff"/>
<rect x="677" y="474" width="1" height="1" fill="#fff"/>
<rect x="681" y="467" width="7" height="2" fill="#000"/>
<rect x="683" y="466" width="3" height="4" fill="#000"/>
<rect x="681" y="473" width="7" height="3" fill="#000"/>
<rect x="682" y="474" width="1" height="1" fill="#fff"/>
<rect x="684" y="474" width="1" height="1" fill="#fff"/>
<rect x="686" y="474" width="1" height="1" fill="#fff"/>
<rect x="690" y="467" width="7" height="2" fill="#000"/>
<rect x="692" y="466" width="3" height="4" fill="#000"/>
<rect x="690" y="473" width="7" height="3" fill="#000"/>
<rect x="691" y="474" width="1" height="1" fill="#fff"/>
<rect x="693" y="474" width="1" height="1" fill="#fff"/>
<rect x="695" y="474" width="1" height="1" fill="#fff"/>
<rect x="699" y="467" width="7" height="2" fill="#000"/>
<rect x="701" y="466" width="3" height="4" fill="#000"/>
<rect x="699" y="473" width="7" height="3" fill="#000"/>
<rect x="700" y="474" width="1" height="1" fill="#fff"/>
<rect x="702" y="474" width="1" height="1" fill="#fff"/>
<rect x="704" y="474" width="1" height="1" fill="#fff"/>
<rect x="602" y="477" width="8" height="7" fill="#000"/>
<rect x="603" y="478" width="6" height="5" fill="#fff"/>
<rect x="611" y="477" width="8" height="7" fill="#000"/>
<rect x="612" y="478" width="6" height="5" fill="#fff"/>
<rect x="621" y="477" width="8" height="7" fill="#000"/>
<rect x="622" y="478" width="6" height="5" fill="#fff"/>
<rect x="630" y="477" width="8" height="7" fill="#000"/>
<rect x="631" y="478" width="6" height="5" fill="#fff"/>
<rect x="640" y="477" width="8" height="7" fill="#000"/>
<rect x="641" y="478" width="6" height="5" fill="#fff"/>
<rect x="649" y="477" width="8" height="7" fill="#000"/>
<rect x="650" y="478" width="6" height="5" fill="#fff"/>
<rect x="659" y="477" width="8" height="7" fill="#000"/>
<rect x="660" y="478" width="6" height="5" fill="#fff"/>
<rect x="668" y="477" width="8" height="7" fill="#000"/>
<rect x="669" y="478" width="6" height="5" fill="#fff"/>
<rect x="677" y="477" width="8" height="7" fill="#000"/>
<rect x="678" y="478" width="6" height="5" fill="#fff"/>
<rect x="687" y="477" width="8" height="7" fill="#000"/>
<rect x="688" y="478" width="6" height="5" fill="#fff"/>
<rect x="696" y="477" width="8" height="7" fill="#000"/>
<rect x="697" y="478" width="6" height="5" fill="#fff"/>
<rect x="597" y="477" width="2" height="2" fill="#000"/>
<rect x="597" y="480" width="1" height="1" fill="#000"/>
<rect x="597" y="482" width="2" height="2" fill="#000"/>
<rect x="705" y="477" width="3" height="7" fill="#000"/>
<rect x="706" y="478" width="1" height="5" fill="#fff"/>
<text transform="translate(0,57) scale(0.82,1)" x="750.08 761.79 770.58 776.83 784.61 791.63" y="0" font-size="9.8">MH0904</text>
</svg>
</body></html>
